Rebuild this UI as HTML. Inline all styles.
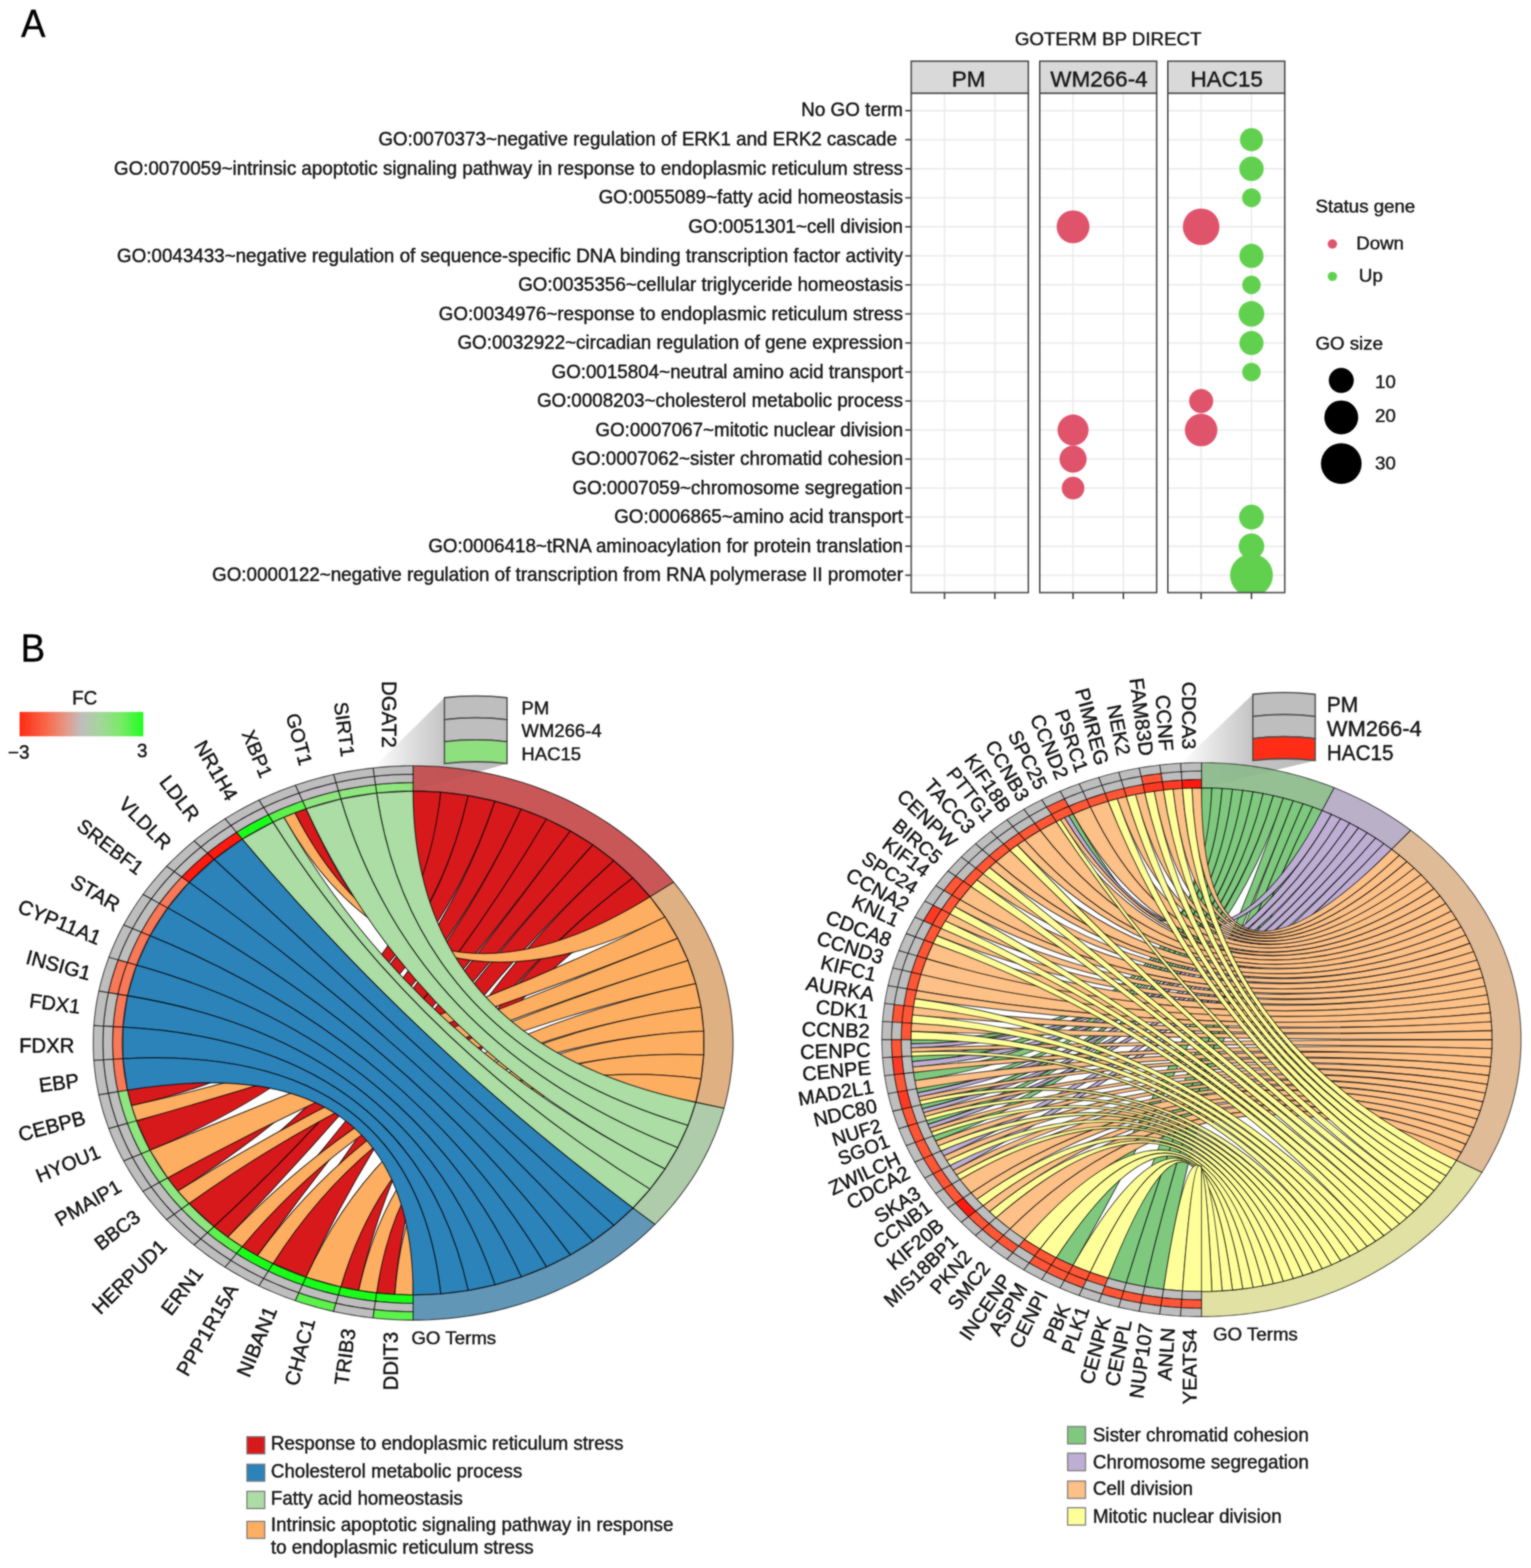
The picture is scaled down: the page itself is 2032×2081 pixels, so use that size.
<!DOCTYPE html>
<html lang="en">
<head>
<meta charset="utf-8">
<title>GO term enrichment and chord plots</title>
<style>
html, body { margin: 0; padding: 0; background: #fff; }
body { width: 2032px; height: 2081px; overflow: hidden; }
svg { display: block; font-family: "Liberation Sans", Arial, Helvetica, sans-serif; }
svg text { stroke: #111; stroke-width: 0.55px; stroke-linejoin: round; }
</style>
</head>
<body>
<svg width="2032" height="2081" viewBox="0 0 2032 2081">
<defs><filter id="soft" filterUnits="userSpaceOnUse" x="0" y="0" width="2032" height="2081" color-interpolation-filters="sRGB">
<feGaussianBlur in="SourceGraphic" stdDeviation="0.9" result="b"/>
<feComposite in="SourceGraphic" in2="b" operator="arithmetic" k1="0" k2="0.3" k3="0.7" k4="0"/>
</filter></defs>
<g filter="url(#soft)">
<rect width="2032" height="2081" fill="#fff"/>
<g id="panelA">
<text transform="translate(28.0,48.9) scale(1,1.075)" font-size="48.5" fill="#000">A</text>
<text x="1470.8" y="60.3" font-size="24.8" text-anchor="middle" fill="#1a1a1a" >GOTERM BP DIRECT</text>
<text x="1198.5" y="153.6" font-size="25.08" text-anchor="end" fill="#1a1a1a" >No GO term</text>
<line x1="1201.5" x2="1209.4" y1="146.9" y2="146.9" stroke="#444" stroke-width="2.1"/>
<text x="1190.5" y="193.3" font-size="24.94" text-anchor="end" fill="#1a1a1a" >GO:0070373~negative regulation of ERK1 and ERK2 cascade</text>
<line x1="1201.5" x2="1209.4" y1="185.4" y2="185.4" stroke="#444" stroke-width="2.1"/>
<text x="1198.5" y="231.9" font-size="24.94" text-anchor="end" fill="#1a1a1a" >GO:0070059~intrinsic apoptotic signaling pathway in response to endoplasmic reticulum stress</text>
<line x1="1201.5" x2="1209.4" y1="224.0" y2="224.0" stroke="#444" stroke-width="2.1"/>
<text x="1198.5" y="270.4" font-size="24.94" text-anchor="end" fill="#1a1a1a" >GO:0055089~fatty acid homeostasis</text>
<line x1="1201.5" x2="1209.4" y1="262.5" y2="262.5" stroke="#444" stroke-width="2.1"/>
<text x="1198.5" y="308.9" font-size="24.94" text-anchor="end" fill="#1a1a1a" >GO:0051301~cell division</text>
<line x1="1201.5" x2="1209.4" y1="301.0" y2="301.0" stroke="#444" stroke-width="2.1"/>
<text x="1198.5" y="347.5" font-size="24.94" text-anchor="end" fill="#1a1a1a" >GO:0043433~negative regulation of sequence-specific DNA binding transcription factor activity</text>
<line x1="1201.5" x2="1209.4" y1="339.6" y2="339.6" stroke="#444" stroke-width="2.1"/>
<text x="1198.5" y="386.0" font-size="24.94" text-anchor="end" fill="#1a1a1a" >GO:0035356~cellular triglyceride homeostasis</text>
<line x1="1201.5" x2="1209.4" y1="378.1" y2="378.1" stroke="#444" stroke-width="2.1"/>
<text x="1198.5" y="424.5" font-size="24.94" text-anchor="end" fill="#1a1a1a" >GO:0034976~response to endoplasmic reticulum stress</text>
<line x1="1201.5" x2="1209.4" y1="416.6" y2="416.6" stroke="#444" stroke-width="2.1"/>
<text x="1198.5" y="463.1" font-size="24.94" text-anchor="end" fill="#1a1a1a" >GO:0032922~circadian regulation of gene expression</text>
<line x1="1201.5" x2="1209.4" y1="455.2" y2="455.2" stroke="#444" stroke-width="2.1"/>
<text x="1198.5" y="501.6" font-size="24.94" text-anchor="end" fill="#1a1a1a" >GO:0015804~neutral amino acid transport</text>
<line x1="1201.5" x2="1209.4" y1="493.7" y2="493.7" stroke="#444" stroke-width="2.1"/>
<text x="1198.5" y="540.1" font-size="24.94" text-anchor="end" fill="#1a1a1a" >GO:0008203~cholesterol metabolic process</text>
<line x1="1201.5" x2="1209.4" y1="532.2" y2="532.2" stroke="#444" stroke-width="2.1"/>
<text x="1198.5" y="578.6" font-size="24.94" text-anchor="end" fill="#1a1a1a" >GO:0007067~mitotic nuclear division</text>
<line x1="1201.5" x2="1209.4" y1="570.7" y2="570.7" stroke="#444" stroke-width="2.1"/>
<text x="1198.5" y="617.2" font-size="24.94" text-anchor="end" fill="#1a1a1a" >GO:0007062~sister chromatid cohesion</text>
<line x1="1201.5" x2="1209.4" y1="609.3" y2="609.3" stroke="#444" stroke-width="2.1"/>
<text x="1198.5" y="655.7" font-size="24.94" text-anchor="end" fill="#1a1a1a" >GO:0007059~chromosome segregation</text>
<line x1="1201.5" x2="1209.4" y1="647.8" y2="647.8" stroke="#444" stroke-width="2.1"/>
<text x="1198.5" y="694.2" font-size="24.94" text-anchor="end" fill="#1a1a1a" >GO:0006865~amino acid transport</text>
<line x1="1201.5" x2="1209.4" y1="686.3" y2="686.3" stroke="#444" stroke-width="2.1"/>
<text x="1198.5" y="732.8" font-size="24.94" text-anchor="end" fill="#1a1a1a" >GO:0006418~tRNA aminoacylation for protein translation</text>
<line x1="1201.5" x2="1209.4" y1="724.9" y2="724.9" stroke="#444" stroke-width="2.1"/>
<text x="1198.5" y="771.3" font-size="24.94" text-anchor="end" fill="#1a1a1a" >GO:0000122~negative regulation of transcription from RNA polymerase II promoter</text>
<line x1="1201.5" x2="1209.4" y1="763.4" y2="763.4" stroke="#444" stroke-width="2.1"/>
<clipPath id="clipA0"><rect x="1209.4" y="123.8" width="155.4" height="662.7"/></clipPath>
<rect x="1209.4" y="81.2" width="155.4" height="42.6" fill="#d9d9d9" stroke="#4a4a4a" stroke-width="2"/>
<text x="1285.6" y="115.0" font-size="29.8" text-anchor="middle" fill="#1a1a1a" >PM</text>
<rect x="1209.4" y="123.8" width="155.4" height="662.7" fill="#fff" stroke="none"/>
<line x1="1209.4" x2="1364.8" y1="146.9" y2="146.9" stroke="#ebebeb" stroke-width="2"/>
<line x1="1209.4" x2="1364.8" y1="185.4" y2="185.4" stroke="#ebebeb" stroke-width="2"/>
<line x1="1209.4" x2="1364.8" y1="224.0" y2="224.0" stroke="#ebebeb" stroke-width="2"/>
<line x1="1209.4" x2="1364.8" y1="262.5" y2="262.5" stroke="#ebebeb" stroke-width="2"/>
<line x1="1209.4" x2="1364.8" y1="301.0" y2="301.0" stroke="#ebebeb" stroke-width="2"/>
<line x1="1209.4" x2="1364.8" y1="339.6" y2="339.6" stroke="#ebebeb" stroke-width="2"/>
<line x1="1209.4" x2="1364.8" y1="378.1" y2="378.1" stroke="#ebebeb" stroke-width="2"/>
<line x1="1209.4" x2="1364.8" y1="416.6" y2="416.6" stroke="#ebebeb" stroke-width="2"/>
<line x1="1209.4" x2="1364.8" y1="455.2" y2="455.2" stroke="#ebebeb" stroke-width="2"/>
<line x1="1209.4" x2="1364.8" y1="493.7" y2="493.7" stroke="#ebebeb" stroke-width="2"/>
<line x1="1209.4" x2="1364.8" y1="532.2" y2="532.2" stroke="#ebebeb" stroke-width="2"/>
<line x1="1209.4" x2="1364.8" y1="570.7" y2="570.7" stroke="#ebebeb" stroke-width="2"/>
<line x1="1209.4" x2="1364.8" y1="609.3" y2="609.3" stroke="#ebebeb" stroke-width="2"/>
<line x1="1209.4" x2="1364.8" y1="647.8" y2="647.8" stroke="#ebebeb" stroke-width="2"/>
<line x1="1209.4" x2="1364.8" y1="686.3" y2="686.3" stroke="#ebebeb" stroke-width="2"/>
<line x1="1209.4" x2="1364.8" y1="724.9" y2="724.9" stroke="#ebebeb" stroke-width="2"/>
<line x1="1209.4" x2="1364.8" y1="763.4" y2="763.4" stroke="#ebebeb" stroke-width="2"/>
<line x1="1253.6" x2="1253.6" y1="123.8" y2="786.5" stroke="#ebebeb" stroke-width="2"/>
<line x1="1253.6" x2="1253.6" y1="786.5" y2="795.0" stroke="#444" stroke-width="2.1"/>
<line x1="1320.4" x2="1320.4" y1="123.8" y2="786.5" stroke="#ebebeb" stroke-width="2"/>
<line x1="1320.4" x2="1320.4" y1="786.5" y2="795.0" stroke="#444" stroke-width="2.1"/>
<clipPath id="clipA1"><rect x="1380.0" y="123.8" width="155.2" height="662.7"/></clipPath>
<rect x="1380.0" y="81.2" width="155.2" height="42.6" fill="#d9d9d9" stroke="#4a4a4a" stroke-width="2"/>
<text x="1458.6" y="115.0" font-size="29.8" text-anchor="middle" fill="#1a1a1a" >WM266-4</text>
<rect x="1380.0" y="123.8" width="155.2" height="662.7" fill="#fff" stroke="none"/>
<line x1="1380.0" x2="1535.2" y1="146.9" y2="146.9" stroke="#ebebeb" stroke-width="2"/>
<line x1="1380.0" x2="1535.2" y1="185.4" y2="185.4" stroke="#ebebeb" stroke-width="2"/>
<line x1="1380.0" x2="1535.2" y1="224.0" y2="224.0" stroke="#ebebeb" stroke-width="2"/>
<line x1="1380.0" x2="1535.2" y1="262.5" y2="262.5" stroke="#ebebeb" stroke-width="2"/>
<line x1="1380.0" x2="1535.2" y1="301.0" y2="301.0" stroke="#ebebeb" stroke-width="2"/>
<line x1="1380.0" x2="1535.2" y1="339.6" y2="339.6" stroke="#ebebeb" stroke-width="2"/>
<line x1="1380.0" x2="1535.2" y1="378.1" y2="378.1" stroke="#ebebeb" stroke-width="2"/>
<line x1="1380.0" x2="1535.2" y1="416.6" y2="416.6" stroke="#ebebeb" stroke-width="2"/>
<line x1="1380.0" x2="1535.2" y1="455.2" y2="455.2" stroke="#ebebeb" stroke-width="2"/>
<line x1="1380.0" x2="1535.2" y1="493.7" y2="493.7" stroke="#ebebeb" stroke-width="2"/>
<line x1="1380.0" x2="1535.2" y1="532.2" y2="532.2" stroke="#ebebeb" stroke-width="2"/>
<line x1="1380.0" x2="1535.2" y1="570.7" y2="570.7" stroke="#ebebeb" stroke-width="2"/>
<line x1="1380.0" x2="1535.2" y1="609.3" y2="609.3" stroke="#ebebeb" stroke-width="2"/>
<line x1="1380.0" x2="1535.2" y1="647.8" y2="647.8" stroke="#ebebeb" stroke-width="2"/>
<line x1="1380.0" x2="1535.2" y1="686.3" y2="686.3" stroke="#ebebeb" stroke-width="2"/>
<line x1="1380.0" x2="1535.2" y1="724.9" y2="724.9" stroke="#ebebeb" stroke-width="2"/>
<line x1="1380.0" x2="1535.2" y1="763.4" y2="763.4" stroke="#ebebeb" stroke-width="2"/>
<line x1="1424.2" x2="1424.2" y1="123.8" y2="786.5" stroke="#ebebeb" stroke-width="2"/>
<line x1="1424.2" x2="1424.2" y1="786.5" y2="795.0" stroke="#444" stroke-width="2.1"/>
<line x1="1491.0" x2="1491.0" y1="123.8" y2="786.5" stroke="#ebebeb" stroke-width="2"/>
<line x1="1491.0" x2="1491.0" y1="786.5" y2="795.0" stroke="#444" stroke-width="2.1"/>
<clipPath id="clipA2"><rect x="1550.0" y="123.8" width="155.2" height="662.7"/></clipPath>
<rect x="1550.0" y="81.2" width="155.2" height="42.6" fill="#d9d9d9" stroke="#4a4a4a" stroke-width="2"/>
<text x="1628.1" y="115.0" font-size="29.8" text-anchor="middle" fill="#1a1a1a" >HAC15</text>
<rect x="1550.0" y="123.8" width="155.2" height="662.7" fill="#fff" stroke="none"/>
<line x1="1550.0" x2="1705.2" y1="146.9" y2="146.9" stroke="#ebebeb" stroke-width="2"/>
<line x1="1550.0" x2="1705.2" y1="185.4" y2="185.4" stroke="#ebebeb" stroke-width="2"/>
<line x1="1550.0" x2="1705.2" y1="224.0" y2="224.0" stroke="#ebebeb" stroke-width="2"/>
<line x1="1550.0" x2="1705.2" y1="262.5" y2="262.5" stroke="#ebebeb" stroke-width="2"/>
<line x1="1550.0" x2="1705.2" y1="301.0" y2="301.0" stroke="#ebebeb" stroke-width="2"/>
<line x1="1550.0" x2="1705.2" y1="339.6" y2="339.6" stroke="#ebebeb" stroke-width="2"/>
<line x1="1550.0" x2="1705.2" y1="378.1" y2="378.1" stroke="#ebebeb" stroke-width="2"/>
<line x1="1550.0" x2="1705.2" y1="416.6" y2="416.6" stroke="#ebebeb" stroke-width="2"/>
<line x1="1550.0" x2="1705.2" y1="455.2" y2="455.2" stroke="#ebebeb" stroke-width="2"/>
<line x1="1550.0" x2="1705.2" y1="493.7" y2="493.7" stroke="#ebebeb" stroke-width="2"/>
<line x1="1550.0" x2="1705.2" y1="532.2" y2="532.2" stroke="#ebebeb" stroke-width="2"/>
<line x1="1550.0" x2="1705.2" y1="570.7" y2="570.7" stroke="#ebebeb" stroke-width="2"/>
<line x1="1550.0" x2="1705.2" y1="609.3" y2="609.3" stroke="#ebebeb" stroke-width="2"/>
<line x1="1550.0" x2="1705.2" y1="647.8" y2="647.8" stroke="#ebebeb" stroke-width="2"/>
<line x1="1550.0" x2="1705.2" y1="686.3" y2="686.3" stroke="#ebebeb" stroke-width="2"/>
<line x1="1550.0" x2="1705.2" y1="724.9" y2="724.9" stroke="#ebebeb" stroke-width="2"/>
<line x1="1550.0" x2="1705.2" y1="763.4" y2="763.4" stroke="#ebebeb" stroke-width="2"/>
<line x1="1594.2" x2="1594.2" y1="123.8" y2="786.5" stroke="#ebebeb" stroke-width="2"/>
<line x1="1594.2" x2="1594.2" y1="786.5" y2="795.0" stroke="#444" stroke-width="2.1"/>
<line x1="1661.0" x2="1661.0" y1="123.8" y2="786.5" stroke="#ebebeb" stroke-width="2"/>
<line x1="1661.0" x2="1661.0" y1="786.5" y2="795.0" stroke="#444" stroke-width="2.1"/>
<circle cx="1661.0" cy="185.4" r="15.3" fill="#61d04f" clip-path="url(#clipA2)"/>
<circle cx="1661.0" cy="224.0" r="16.2" fill="#61d04f" clip-path="url(#clipA2)"/>
<circle cx="1661.0" cy="262.5" r="12.5" fill="#61d04f" clip-path="url(#clipA2)"/>
<circle cx="1424.2" cy="301.0" r="21.8" fill="#df536b" clip-path="url(#clipA1)"/>
<circle cx="1594.2" cy="301.0" r="24.3" fill="#df536b" clip-path="url(#clipA2)"/>
<circle cx="1661.0" cy="339.6" r="16.0" fill="#61d04f" clip-path="url(#clipA2)"/>
<circle cx="1661.0" cy="378.1" r="12.3" fill="#61d04f" clip-path="url(#clipA2)"/>
<circle cx="1661.0" cy="416.6" r="17.0" fill="#61d04f" clip-path="url(#clipA2)"/>
<circle cx="1661.0" cy="455.2" r="16.0" fill="#61d04f" clip-path="url(#clipA2)"/>
<circle cx="1661.0" cy="493.7" r="12.3" fill="#61d04f" clip-path="url(#clipA2)"/>
<circle cx="1594.2" cy="532.2" r="16.0" fill="#df536b" clip-path="url(#clipA2)"/>
<circle cx="1424.2" cy="570.7" r="20.6" fill="#df536b" clip-path="url(#clipA1)"/>
<circle cx="1594.2" cy="570.7" r="21.6" fill="#df536b" clip-path="url(#clipA2)"/>
<circle cx="1424.2" cy="609.3" r="18.0" fill="#df536b" clip-path="url(#clipA1)"/>
<circle cx="1424.2" cy="647.8" r="15.0" fill="#df536b" clip-path="url(#clipA1)"/>
<circle cx="1661.0" cy="686.3" r="16.5" fill="#61d04f" clip-path="url(#clipA2)"/>
<circle cx="1661.0" cy="724.9" r="17.0" fill="#61d04f" clip-path="url(#clipA2)"/>
<circle cx="1661.0" cy="763.4" r="28.4" fill="#61d04f" clip-path="url(#clipA2)"/>
<rect x="1209.4" y="123.8" width="155.4" height="662.7" fill="none" stroke="#4a4a4a" stroke-width="2"/>
<rect x="1380.0" y="123.8" width="155.2" height="662.7" fill="none" stroke="#4a4a4a" stroke-width="2"/>
<rect x="1550.0" y="123.8" width="155.2" height="662.7" fill="none" stroke="#4a4a4a" stroke-width="2"/>
<text x="1746.0" y="282.3" font-size="24.8" text-anchor="start" fill="#1a1a1a" >Status gene</text>
<circle cx="1768.4" cy="323.8" r="6.2" fill="#df536b"/>
<text x="1800.0" y="330.5" font-size="24.8" text-anchor="start" fill="#1a1a1a" >Down</text>
<circle cx="1768.4" cy="366.9" r="6.2" fill="#61d04f"/>
<text x="1803.5" y="373.5" font-size="24.8" text-anchor="start" fill="#1a1a1a" >Up</text>
<text x="1746.0" y="464.3" font-size="24.8" text-anchor="start" fill="#1a1a1a" >GO size</text>
<circle cx="1780.2" cy="504.9" r="16.6" fill="#000"/>
<text x="1825.0" y="514.5" font-size="24.8" text-anchor="start" fill="#1a1a1a" >10</text>
<circle cx="1780.2" cy="553.9" r="22.5" fill="#000"/>
<text x="1825.0" y="560.4" font-size="24.8" text-anchor="start" fill="#1a1a1a" >20</text>
<circle cx="1780.2" cy="615.3" r="27.0" fill="#000"/>
<text x="1825.0" y="623.1" font-size="24.8" text-anchor="start" fill="#1a1a1a" >30</text>
</g>
<g id="panelB">
<text transform="translate(27.6,877.6) scale(1,1.075)" font-size="48.5" fill="#000">B</text>
<defs><linearGradient id="fc" x1="0" x2="1" y1="0" y2="0"><stop offset="0" stop-color="#ff2a14"/><stop offset="0.22" stop-color="#f9694a"/><stop offset="0.38" stop-color="#e49a8a"/><stop offset="0.5" stop-color="#bebebe"/><stop offset="0.65" stop-color="#a3d79a"/><stop offset="0.82" stop-color="#79ea68"/><stop offset="1" stop-color="#1eff1e"/></linearGradient></defs>
<rect x="26" y="944.8" width="164.2" height="32.4" fill="url(#fc)"/>
<text x="112.5" y="935.0" font-size="25" text-anchor="middle" fill="#1a1a1a" >FC</text>
<text x="25.0" y="1007.0" font-size="25" text-anchor="middle" fill="#1a1a1a" >−3</text>
<text x="188.7" y="1004.8" font-size="25" text-anchor="middle" fill="#1a1a1a" >3</text>
<defs><linearGradient id="shL" gradientUnits="userSpaceOnUse" x1="495.1" y1="0" x2="672.9" y2="0"><stop offset="0" stop-color="#000" stop-opacity="0"/><stop offset="0.55" stop-color="#000" stop-opacity="0.21"/><stop offset="1" stop-color="#000" stop-opacity="0.235"/></linearGradient></defs>
<path d="M495.1,1019.3 L589.8,926.0 L672.9,926.0 L672.9,1013.4 L548.3,1049.8Z" fill="url(#shL)"/>
<defs><linearGradient id="shR" gradientUnits="userSpaceOnUse" x1="1566.9" y1="0" x2="1745.6" y2="0"><stop offset="0" stop-color="#000" stop-opacity="0"/><stop offset="0.55" stop-color="#000" stop-opacity="0.21"/><stop offset="1" stop-color="#000" stop-opacity="0.235"/></linearGradient></defs>
<path d="M1566.9,1013.0 L1662.8,921.5 L1745.6,921.5 L1745.6,1009.4 L1594.6,1045.6Z" fill="url(#shR)"/>
<g stroke="#000" stroke-opacity="0.7" stroke-width="1.3" stroke-linejoin="round">
<path d="M548.3,1049.8 L555.0,1049.9 L561.7,1050.0 L568.3,1050.3 L575.0,1050.6 L581.7,1051.1 L588.3,1051.6 L595.0,1052.3 L601.6,1053.0 L608.2,1053.8 L614.8,1054.8 L621.4,1055.8 L627.9,1057.0 L634.4,1058.2 L640.9,1059.6 L647.4,1061.0 L653.8,1062.5 L660.2,1064.2 L666.6,1065.9 L673.0,1067.7 L679.3,1069.6 L685.5,1071.6 L691.8,1073.8 L697.9,1076.0 L704.1,1078.2 L710.2,1080.6 L716.2,1083.1 L722.2,1085.7 L728.1,1088.3 L734.0,1091.1 L739.9,1093.9 L745.6,1096.8 L751.3,1099.8 L757.0,1102.9 L762.6,1106.1 L768.1,1109.3 L773.6,1112.6 L779.0,1116.1 L784.3,1119.6 L789.5,1123.1 L794.7,1126.8 L799.8,1130.5 L804.8,1134.3 L809.8,1138.2 L814.7,1142.2 L819.5,1146.2 L824.2,1150.3 L828.8,1154.5 L833.4,1158.7 L837.8,1163.0 L842.2,1167.4 L846.5,1171.8 L850.7,1176.4 L854.8,1180.9 L858.8,1185.5 L862.7,1190.2 L894.2,1170.8 L889.9,1165.7 L885.4,1160.6 L880.9,1155.6 L876.3,1150.6 L871.6,1145.7 L866.8,1140.9 L861.9,1136.2 L856.9,1131.5 L851.8,1126.9 L846.6,1122.4 L841.3,1118.0 L835.9,1113.6 L830.5,1109.4 L825.0,1105.2 L819.3,1101.1 L813.6,1097.0 L807.9,1093.1 L802.0,1089.3 L796.1,1085.5 L790.1,1081.8 L784.0,1078.2 L777.9,1074.8 L771.6,1071.4 L765.4,1068.1 L759.0,1064.8 L752.6,1061.7 L746.1,1058.7 L739.6,1055.8 L733.0,1053.0 L726.4,1050.3 L719.7,1047.6 L712.9,1045.1 L706.1,1042.7 L699.3,1040.4 L692.4,1038.2 L685.4,1036.1 L678.5,1034.1 L671.4,1032.2 L664.4,1030.4 L657.3,1028.7 L650.2,1027.1 L643.0,1025.6 L635.9,1024.3 L628.7,1023.0 L621.4,1021.9 L614.2,1020.8 L606.9,1019.9 L599.6,1019.1 L592.3,1018.3 L585.0,1017.7 L577.7,1017.2 L570.3,1016.9 L563.0,1016.6 L555.6,1016.4 L548.3,1016.4Z" fill="#c95758"/>
<path d="M862.7,1190.2 L866.5,1194.9 L870.2,1199.7 L873.8,1204.5 L877.3,1209.3 L880.7,1214.3 L884.0,1219.2 L887.3,1224.2 L890.4,1229.3 L893.4,1234.4 L896.3,1239.5 L899.1,1244.7 L901.8,1249.9 L904.4,1255.2 L906.9,1260.5 L909.3,1265.8 L911.6,1271.2 L913.8,1276.6 L915.9,1282.1 L917.8,1287.5 L919.7,1293.0 L921.4,1298.6 L923.1,1304.1 L924.6,1309.7 L926.0,1315.3 L927.3,1320.9 L928.5,1326.6 L929.6,1332.2 L930.6,1337.9 L931.4,1343.6 L932.2,1349.2 L932.8,1354.9 L933.3,1360.7 L933.8,1366.4 L934.0,1372.1 L934.2,1377.8 L934.3,1383.6 L934.3,1389.3 L934.1,1395.0 L933.8,1400.7 L933.4,1406.5 L932.9,1412.2 L932.3,1417.9 L931.6,1423.6 L930.8,1429.3 L929.8,1434.9 L928.8,1440.6 L927.6,1446.2 L926.3,1451.9 L924.9,1457.5 L923.4,1463.0 L960.9,1470.9 L962.6,1464.8 L964.1,1458.6 L965.5,1452.4 L966.8,1446.2 L968.0,1440.0 L969.0,1433.8 L969.9,1427.5 L970.7,1421.3 L971.4,1415.0 L972.0,1408.7 L972.4,1402.4 L972.7,1396.1 L972.9,1389.8 L972.9,1383.5 L972.8,1377.2 L972.6,1370.9 L972.3,1364.6 L971.8,1358.3 L971.3,1352.0 L970.6,1345.8 L969.8,1339.5 L968.8,1333.2 L967.7,1327.0 L966.5,1320.8 L965.2,1314.6 L963.8,1308.4 L962.2,1302.3 L960.5,1296.1 L958.7,1290.0 L956.8,1283.9 L954.8,1277.9 L952.6,1271.9 L950.3,1265.9 L947.9,1259.9 L945.4,1254.0 L942.8,1248.1 L940.0,1242.3 L937.2,1236.5 L934.2,1230.8 L931.1,1225.1 L927.9,1219.4 L924.6,1213.8 L921.2,1208.2 L917.6,1202.7 L914.0,1197.3 L910.2,1191.9 L906.4,1186.5 L902.4,1181.2 L898.3,1176.0 L894.2,1170.8Z" fill="#dfb082"/>
<path d="M923.4,1463.0 L921.8,1468.6 L920.1,1474.0 L918.3,1479.5 L916.4,1484.9 L914.3,1490.3 L912.2,1495.7 L910.0,1501.1 L907.6,1506.4 L905.2,1511.6 L902.6,1516.9 L900.0,1522.1 L897.2,1527.2 L894.3,1532.4 L891.4,1537.4 L888.3,1542.5 L885.2,1547.4 L881.9,1552.4 L878.6,1557.3 L875.1,1562.1 L871.6,1566.9 L868.0,1571.6 L864.2,1576.3 L860.4,1580.9 L856.5,1585.5 L852.5,1590.0 L848.4,1594.5 L844.3,1598.9 L840.0,1603.2 L869.2,1625.1 L873.9,1620.3 L878.5,1615.5 L882.9,1610.6 L887.3,1605.6 L891.6,1600.6 L895.8,1595.5 L899.9,1590.4 L903.9,1585.2 L907.8,1579.9 L911.6,1574.6 L915.3,1569.2 L918.9,1563.8 L922.3,1558.3 L925.7,1552.8 L929.0,1547.2 L932.1,1541.5 L935.1,1535.9 L938.0,1530.1 L940.9,1524.4 L943.5,1518.6 L946.1,1512.7 L948.6,1506.9 L950.9,1501.0 L953.2,1495.0 L955.3,1489.0 L957.3,1483.0 L959.2,1477.0 L960.9,1470.9Z" fill="#aeccaa"/>
<path d="M840.0,1603.2 L835.6,1607.5 L831.2,1611.7 L826.6,1615.9 L822.0,1620.0 L817.3,1624.0 L812.5,1628.0 L807.7,1631.9 L802.7,1635.7 L797.7,1639.4 L792.6,1643.1 L787.5,1646.7 L782.3,1650.2 L777.0,1653.6 L771.6,1657.0 L766.2,1660.2 L760.7,1663.4 L755.1,1666.5 L749.5,1669.6 L743.8,1672.5 L738.1,1675.4 L732.3,1678.2 L726.5,1680.8 L720.6,1683.4 L714.6,1686.0 L708.7,1688.4 L702.6,1690.7 L696.5,1693.0 L690.4,1695.1 L684.2,1697.2 L678.0,1699.2 L671.8,1701.0 L665.5,1702.8 L659.2,1704.5 L652.8,1706.1 L646.4,1707.6 L640.0,1709.0 L633.6,1710.3 L627.1,1711.6 L620.6,1712.7 L614.1,1713.7 L607.6,1714.6 L601.1,1715.5 L594.5,1716.2 L587.9,1716.8 L581.3,1717.4 L574.7,1717.8 L568.1,1718.2 L561.5,1718.4 L554.9,1718.6 L548.3,1718.6 L548.3,1752.0 L555.6,1752.0 L562.8,1751.8 L570.1,1751.6 L577.4,1751.2 L584.6,1750.7 L591.9,1750.1 L599.1,1749.4 L606.3,1748.6 L613.5,1747.7 L620.7,1746.7 L627.9,1745.5 L635.0,1744.3 L642.1,1743.0 L649.2,1741.5 L656.2,1740.0 L663.3,1738.3 L670.2,1736.5 L677.2,1734.7 L684.1,1732.7 L691.0,1730.6 L697.8,1728.5 L704.6,1726.2 L711.3,1723.8 L718.0,1721.4 L724.7,1718.8 L731.3,1716.1 L737.8,1713.4 L744.3,1710.5 L750.7,1707.5 L757.1,1704.5 L763.4,1701.3 L769.6,1698.1 L775.8,1694.8 L781.9,1691.4 L788.0,1687.8 L793.9,1684.2 L799.8,1680.5 L805.7,1676.8 L811.4,1672.9 L817.1,1669.0 L822.7,1664.9 L828.2,1660.8 L833.6,1656.6 L839.0,1652.3 L844.2,1648.0 L849.4,1643.6 L854.5,1639.1 L859.5,1634.5 L864.4,1629.8 L869.2,1625.1Z" fill="#6196b7"/>
</g>
<g stroke="#000" stroke-opacity="0.78" stroke-width="1.3" stroke-linejoin="round">
<path d="M548.3,1049.8 Q548.3,1384.2 406.2,1073.3 L391.3,1078.7 Q548.3,1384.2 585.0,1051.3Z" fill="#d7191c"/>
<path d="M585.0,1051.3 Q548.3,1384.2 169.1,1446.9 L174.4,1467.4 Q548.3,1384.2 621.4,1055.8Z" fill="#d7191c"/>
<path d="M621.4,1055.8 Q548.3,1384.2 181.2,1487.5 L199.0,1526.6 Q548.3,1384.2 657.0,1063.3Z" fill="#d7191c"/>
<path d="M657.0,1063.3 Q548.3,1384.2 222.4,1563.4 L236.0,1580.8 Q548.3,1384.2 691.8,1073.8Z" fill="#d7191c"/>
<path d="M691.8,1073.8 Q548.3,1384.2 250.9,1597.4 L284.1,1628.0 Q548.3,1384.2 725.2,1087.0Z" fill="#d7191c"/>
<path d="M725.2,1087.0 Q548.3,1384.2 284.1,1628.0 L302.3,1641.9 Q548.3,1384.2 757.0,1102.9Z" fill="#d7191c"/>
<path d="M757.0,1102.9 Q548.3,1384.2 321.4,1654.7 L341.5,1666.5 Q548.3,1384.2 786.9,1121.3Z" fill="#d7191c"/>
<path d="M786.9,1121.3 Q548.3,1384.2 362.3,1677.2 L406.2,1695.1 Q548.3,1384.2 814.7,1142.2Z" fill="#d7191c"/>
<path d="M814.7,1142.2 Q548.3,1384.2 452.3,1708.1 L476.0,1712.7 Q548.3,1384.2 840.0,1165.2Z" fill="#d7191c"/>
<path d="M840.0,1165.2 Q548.3,1384.2 499.9,1716.0 L524.1,1717.9 Q548.3,1384.2 862.7,1190.2Z" fill="#d7191c"/>
<path d="M862.7,1190.2 Q548.3,1384.2 391.3,1078.7 L376.7,1084.7 Q548.3,1384.2 882.6,1217.0Z" fill="#fdae61"/>
<path d="M882.6,1217.0 Q548.3,1384.2 174.4,1467.4 L181.2,1487.5 Q548.3,1384.2 899.4,1245.3Z" fill="#fdae61"/>
<path d="M899.4,1245.3 Q548.3,1384.2 199.0,1526.6 L222.4,1563.4 Q548.3,1384.2 913.1,1274.8Z" fill="#fdae61"/>
<path d="M913.1,1274.8 Q548.3,1384.2 236.0,1580.8 L250.9,1597.4 Q548.3,1384.2 923.4,1305.4Z" fill="#fdae61"/>
<path d="M923.4,1305.4 Q548.3,1384.2 302.3,1641.9 L321.4,1654.7 Q548.3,1384.2 930.4,1336.6Z" fill="#fdae61"/>
<path d="M930.4,1336.6 Q548.3,1384.2 341.5,1666.5 L362.3,1677.2 Q548.3,1384.2 933.9,1368.3Z" fill="#fdae61"/>
<path d="M933.9,1368.3 Q548.3,1384.2 406.2,1695.1 L452.3,1708.1 Q548.3,1384.2 933.9,1400.1Z" fill="#fdae61"/>
<path d="M933.9,1400.1 Q548.3,1384.2 476.0,1712.7 L499.9,1716.0 Q548.3,1384.2 930.4,1431.8Z" fill="#fdae61"/>
<path d="M930.4,1431.8 Q548.3,1384.2 524.1,1717.9 L548.3,1718.6 Q548.3,1384.2 923.4,1463.0Z" fill="#fdae61"/>
<path d="M923.4,1463.0 Q548.3,1384.2 548.3,1049.8 L499.9,1052.4 Q548.3,1384.2 913.1,1493.6Z" fill="#abdda4"/>
<path d="M913.1,1493.6 Q548.3,1384.2 499.9,1052.4 L452.3,1060.3 Q548.3,1384.2 899.4,1523.1Z" fill="#abdda4"/>
<path d="M899.4,1523.1 Q548.3,1384.2 452.3,1060.3 L406.2,1073.3 Q548.3,1384.2 882.6,1551.4Z" fill="#abdda4"/>
<path d="M882.6,1551.4 Q548.3,1384.2 376.7,1084.7 L362.3,1091.2 Q548.3,1384.2 862.7,1578.2Z" fill="#abdda4"/>
<path d="M862.7,1578.2 Q548.3,1384.2 362.3,1091.2 L321.4,1113.7 Q548.3,1384.2 840.0,1603.2Z" fill="#abdda4"/>
<path d="M840.0,1603.2 Q548.3,1384.2 321.4,1113.7 L284.1,1140.4 Q548.3,1384.2 814.7,1626.2Z" fill="#2b83ba"/>
<path d="M814.7,1626.2 Q548.3,1384.2 284.1,1140.4 L250.9,1171.0 Q548.3,1384.2 786.9,1647.1Z" fill="#2b83ba"/>
<path d="M786.9,1647.1 Q548.3,1384.2 250.9,1171.0 L222.4,1205.0 Q548.3,1384.2 757.0,1665.5Z" fill="#2b83ba"/>
<path d="M757.0,1665.5 Q548.3,1384.2 222.4,1205.0 L199.0,1241.8 Q548.3,1384.2 725.2,1681.4Z" fill="#2b83ba"/>
<path d="M725.2,1681.4 Q548.3,1384.2 199.0,1241.8 L181.2,1280.9 Q548.3,1384.2 691.8,1694.6Z" fill="#2b83ba"/>
<path d="M691.8,1694.6 Q548.3,1384.2 181.2,1280.9 L169.1,1321.5 Q548.3,1384.2 657.0,1705.1Z" fill="#2b83ba"/>
<path d="M657.0,1705.1 Q548.3,1384.2 169.1,1321.5 L163.1,1363.2 Q548.3,1384.2 621.4,1712.6Z" fill="#2b83ba"/>
<path d="M621.4,1712.6 Q548.3,1384.2 163.1,1363.2 L163.1,1405.2 Q548.3,1384.2 585.0,1717.1Z" fill="#2b83ba"/>
<path d="M585.0,1717.1 Q548.3,1384.2 163.1,1405.2 L169.1,1446.9 Q548.3,1384.2 548.3,1718.6Z" fill="#2b83ba"/>
</g>
<g stroke="#000" stroke-opacity="0.7" stroke-width="1.3" stroke-linejoin="round">
<path d="M548.3,1049.8 L542.2,1049.8 L536.2,1050.0 L530.1,1050.2 L524.1,1050.5 L518.0,1050.8 L512.0,1051.3 L505.9,1051.8 L499.9,1052.4 L498.3,1041.4 L504.5,1040.7 L510.8,1040.2 L517.0,1039.7 L523.3,1039.3 L529.5,1039.0 L535.8,1038.8 L542.0,1038.7 L548.3,1038.7Z" fill="#8fe67f"/>
<path d="M548.3,1038.7 L542.0,1038.7 L535.8,1038.8 L529.5,1039.0 L523.3,1039.3 L517.0,1039.7 L510.8,1040.2 L504.5,1040.7 L498.3,1041.4 L496.7,1030.3 L503.1,1029.7 L509.6,1029.1 L516.0,1028.6 L522.4,1028.2 L528.9,1027.9 L535.4,1027.7 L541.8,1027.6 L548.3,1027.5Z" fill="#bebebe"/>
<path d="M548.3,1027.5 L541.8,1027.6 L535.4,1027.7 L528.9,1027.9 L522.4,1028.2 L516.0,1028.6 L509.6,1029.1 L503.1,1029.7 L496.7,1030.3 L495.1,1019.3 L501.7,1018.6 L508.3,1018.0 L515.0,1017.5 L521.6,1017.1 L528.3,1016.8 L535.0,1016.5 L541.6,1016.4 L548.3,1016.4Z" fill="#bebebe"/>
<path d="M499.9,1052.4 L493.9,1053.1 L487.9,1053.9 L481.9,1054.8 L476.0,1055.7 L470.0,1056.7 L464.1,1057.9 L458.2,1059.0 L452.3,1060.3 L449.1,1049.5 L455.2,1048.2 L461.3,1047.0 L467.4,1045.8 L473.6,1044.8 L479.7,1043.8 L485.9,1042.9 L492.1,1042.1 L498.3,1041.4Z" fill="#8fe67f"/>
<path d="M498.3,1041.4 L492.1,1042.1 L485.9,1042.9 L479.7,1043.8 L473.6,1044.8 L467.4,1045.8 L461.3,1047.0 L455.2,1048.2 L449.1,1049.5 L445.9,1038.7 L452.2,1037.4 L458.5,1036.1 L464.8,1034.9 L471.1,1033.8 L477.5,1032.8 L483.9,1031.9 L490.3,1031.1 L496.7,1030.3Z" fill="#bebebe"/>
<path d="M496.7,1030.3 L490.3,1031.1 L483.9,1031.9 L477.5,1032.8 L471.1,1033.8 L464.8,1034.9 L458.5,1036.1 L452.2,1037.4 L445.9,1038.7 L442.7,1027.9 L449.2,1026.5 L455.7,1025.2 L462.2,1024.0 L468.7,1022.9 L475.3,1021.8 L481.9,1020.9 L488.5,1020.0 L495.1,1019.3Z" fill="#bebebe"/>
<path d="M452.3,1060.3 L446.4,1061.7 L440.6,1063.1 L434.8,1064.6 L429.0,1066.2 L423.3,1067.8 L417.5,1069.6 L411.9,1071.4 L406.2,1073.3 L401.5,1062.9 L407.3,1061.0 L413.2,1059.1 L419.1,1057.3 L425.0,1055.6 L431.0,1053.9 L437.0,1052.4 L443.0,1050.9 L449.1,1049.5Z" fill="#8fe67f"/>
<path d="M449.1,1049.5 L443.0,1050.9 L437.0,1052.4 L431.0,1053.9 L425.0,1055.6 L419.1,1057.3 L413.2,1059.1 L407.3,1061.0 L401.5,1062.9 L396.7,1052.6 L402.8,1050.5 L408.8,1048.6 L414.9,1046.7 L421.1,1045.0 L427.2,1043.3 L433.4,1041.7 L439.7,1040.1 L445.9,1038.7Z" fill="#c3bcc2"/>
<path d="M445.9,1038.7 L439.7,1040.1 L433.4,1041.7 L427.2,1043.3 L421.1,1045.0 L414.9,1046.7 L408.8,1048.6 L402.8,1050.5 L396.7,1052.6 L392.0,1042.2 L398.2,1040.1 L404.5,1038.1 L410.8,1036.2 L417.1,1034.4 L423.5,1032.6 L429.8,1031.0 L436.3,1029.4 L442.7,1027.9Z" fill="#bebebe"/>
<path d="M406.2,1073.3 L400.6,1075.3 L395.0,1077.3 L389.5,1079.4 L383.9,1081.6 L378.5,1083.9 L373.1,1086.2 L367.7,1088.7 L362.3,1091.2 L356.1,1081.4 L361.7,1078.8 L367.2,1076.3 L372.8,1073.9 L378.5,1071.5 L384.2,1069.3 L389.9,1067.1 L395.7,1065.0 L401.5,1062.9Z" fill="#5cf24c"/>
<path d="M401.5,1062.9 L395.7,1065.0 L389.9,1067.1 L384.2,1069.3 L378.5,1071.5 L372.8,1073.9 L367.2,1076.3 L361.7,1078.8 L356.1,1081.4 L349.9,1071.6 L355.6,1069.0 L361.4,1066.4 L367.2,1063.9 L373.0,1061.5 L378.9,1059.1 L384.8,1056.8 L390.7,1054.7 L396.7,1052.6Z" fill="#c3bcc2"/>
<path d="M396.7,1052.6 L390.7,1054.7 L384.8,1056.8 L378.9,1059.1 L373.0,1061.5 L367.2,1063.9 L361.4,1066.4 L355.6,1069.0 L349.9,1071.6 L343.7,1061.9 L349.6,1059.1 L355.5,1056.5 L361.5,1053.9 L367.5,1051.4 L373.6,1048.9 L379.7,1046.6 L385.8,1044.4 L392.0,1042.2Z" fill="#bebebe"/>
<path d="M362.3,1091.2 L357.1,1093.7 L351.8,1096.4 L346.6,1099.1 L341.5,1101.9 L336.4,1104.7 L331.3,1107.6 L326.3,1110.6 L321.4,1113.7 L313.9,1104.6 L318.9,1101.5 L324.1,1098.4 L329.3,1095.4 L334.6,1092.4 L339.9,1089.6 L345.3,1086.8 L350.7,1084.0 L356.1,1081.4Z" fill="#18ff18"/>
<path d="M356.1,1081.4 L350.7,1084.0 L345.3,1086.8 L339.9,1089.6 L334.6,1092.4 L329.3,1095.4 L324.1,1098.4 L318.9,1101.5 L313.9,1104.6 L306.3,1095.6 L311.6,1092.4 L316.9,1089.2 L322.2,1086.1 L327.7,1083.0 L333.2,1080.1 L338.7,1077.2 L344.3,1074.4 L349.9,1071.6Z" fill="#c3bcc2"/>
<path d="M349.9,1071.6 L344.3,1074.4 L338.7,1077.2 L333.2,1080.1 L327.7,1083.0 L322.2,1086.1 L316.9,1089.2 L311.6,1092.4 L306.3,1095.6 L298.7,1086.6 L304.2,1083.3 L309.6,1080.0 L315.2,1076.8 L320.8,1073.6 L326.4,1070.6 L332.2,1067.6 L337.9,1064.7 L343.7,1061.9Z" fill="#bebebe"/>
<path d="M321.4,1113.7 L316.5,1116.8 L311.7,1120.0 L307.0,1123.2 L302.3,1126.5 L297.6,1129.9 L293.0,1133.4 L288.5,1136.9 L284.1,1140.4 L275.3,1132.3 L279.9,1128.6 L284.5,1125.0 L289.3,1121.4 L294.1,1118.0 L298.9,1114.5 L303.8,1111.2 L308.8,1107.9 L313.9,1104.6Z" fill="#ff1a10"/>
<path d="M313.9,1104.6 L308.8,1107.9 L303.8,1111.2 L298.9,1114.5 L294.1,1118.0 L289.3,1121.4 L284.5,1125.0 L279.9,1128.6 L275.3,1132.3 L266.4,1124.2 L271.2,1120.4 L276.0,1116.6 L280.9,1113.0 L285.9,1109.4 L290.9,1105.8 L295.9,1102.4 L301.1,1099.0 L306.3,1095.6Z" fill="#bebebe"/>
<path d="M306.3,1095.6 L301.1,1099.0 L295.9,1102.4 L290.9,1105.8 L285.9,1109.4 L280.9,1113.0 L276.0,1116.6 L271.2,1120.4 L266.4,1124.2 L257.6,1116.1 L262.5,1112.1 L267.5,1108.3 L272.5,1104.5 L277.6,1100.8 L282.8,1097.1 L288.1,1093.5 L293.4,1090.0 L298.7,1086.6Z" fill="#bebebe"/>
<path d="M284.1,1140.4 L279.7,1144.1 L275.4,1147.7 L271.1,1151.5 L266.9,1155.3 L262.8,1159.1 L258.8,1163.1 L254.8,1167.0 L250.9,1171.0 L241.0,1163.9 L245.0,1159.8 L249.1,1155.7 L253.3,1151.6 L257.5,1147.7 L261.9,1143.7 L266.3,1139.9 L270.7,1136.1 L275.3,1132.3Z" fill="#ff1a10"/>
<path d="M275.3,1132.3 L270.7,1136.1 L266.3,1139.9 L261.9,1143.7 L257.5,1147.7 L253.3,1151.6 L249.1,1155.7 L245.0,1159.8 L241.0,1163.9 L231.1,1156.8 L235.2,1152.5 L239.5,1148.3 L243.8,1144.1 L248.2,1140.0 L252.6,1136.0 L257.2,1132.0 L261.8,1128.0 L266.4,1124.2Z" fill="#bebebe"/>
<path d="M266.4,1124.2 L261.8,1128.0 L257.2,1132.0 L252.6,1136.0 L248.2,1140.0 L243.8,1144.1 L239.5,1148.3 L235.2,1152.5 L231.1,1156.8 L221.1,1149.7 L225.4,1145.3 L229.8,1140.9 L234.3,1136.6 L238.8,1132.4 L243.4,1128.2 L248.1,1124.1 L252.8,1120.0 L257.6,1116.1Z" fill="#bebebe"/>
<path d="M250.9,1171.0 L247.1,1175.1 L243.3,1179.2 L239.6,1183.4 L236.0,1187.6 L232.5,1191.9 L229.0,1196.2 L225.7,1200.6 L222.4,1205.0 L211.5,1199.0 L214.9,1194.5 L218.4,1190.0 L222.0,1185.5 L225.6,1181.1 L229.3,1176.7 L233.1,1172.4 L237.0,1168.1 L241.0,1163.9Z" fill="#f97858"/>
<path d="M241.0,1163.9 L237.0,1168.1 L233.1,1172.4 L229.3,1176.7 L225.6,1181.1 L222.0,1185.5 L218.4,1190.0 L214.9,1194.5 L211.5,1199.0 L200.7,1193.1 L204.2,1188.4 L207.8,1183.7 L211.4,1179.1 L215.2,1174.5 L219.0,1170.0 L223.0,1165.6 L227.0,1161.2 L231.1,1156.8Z" fill="#bebebe"/>
<path d="M231.1,1156.8 L227.0,1161.2 L223.0,1165.6 L219.0,1170.0 L215.2,1174.5 L211.4,1179.1 L207.8,1183.7 L204.2,1188.4 L200.7,1193.1 L189.8,1187.1 L193.4,1182.2 L197.1,1177.4 L200.9,1172.7 L204.8,1168.0 L208.8,1163.3 L212.8,1158.7 L216.9,1154.2 L221.1,1149.7Z" fill="#bebebe"/>
<path d="M222.4,1205.0 L219.2,1209.5 L216.1,1214.0 L213.0,1218.5 L210.0,1223.1 L207.2,1227.7 L204.4,1232.4 L201.7,1237.1 L199.0,1241.8 L187.4,1237.1 L190.1,1232.2 L192.9,1227.3 L195.8,1222.5 L198.8,1217.7 L201.8,1213.0 L205.0,1208.3 L208.2,1203.7 L211.5,1199.0Z" fill="#f97858"/>
<path d="M211.5,1199.0 L208.2,1203.7 L205.0,1208.3 L201.8,1213.0 L198.8,1217.7 L195.8,1222.5 L192.9,1227.3 L190.1,1232.2 L187.4,1237.1 L175.8,1232.3 L178.6,1227.3 L181.4,1222.3 L184.4,1217.3 L187.5,1212.4 L190.7,1207.5 L193.9,1202.6 L197.2,1197.8 L200.7,1193.1Z" fill="#bebebe"/>
<path d="M200.7,1193.1 L197.2,1197.8 L193.9,1202.6 L190.7,1207.5 L187.5,1212.4 L184.4,1217.3 L181.4,1222.3 L178.6,1227.3 L175.8,1232.3 L164.1,1227.6 L167.0,1222.4 L170.0,1217.2 L173.1,1212.1 L176.2,1207.0 L179.5,1202.0 L182.8,1197.0 L186.3,1192.0 L189.8,1187.1Z" fill="#bebebe"/>
<path d="M199.0,1241.8 L196.5,1246.6 L194.0,1251.4 L191.7,1256.2 L189.4,1261.1 L187.2,1266.0 L185.1,1270.9 L183.1,1275.9 L181.2,1280.9 L169.0,1277.4 L170.9,1272.3 L173.0,1267.2 L175.2,1262.1 L177.4,1257.0 L179.8,1252.0 L182.2,1247.0 L184.8,1242.0 L187.4,1237.1Z" fill="#f97858"/>
<path d="M187.4,1237.1 L184.8,1242.0 L182.2,1247.0 L179.8,1252.0 L177.4,1257.0 L175.2,1262.1 L173.0,1267.2 L170.9,1272.3 L169.0,1277.4 L156.7,1274.0 L158.8,1268.7 L160.9,1263.4 L163.1,1258.1 L165.5,1252.9 L167.9,1247.7 L170.4,1242.5 L173.0,1237.4 L175.8,1232.3Z" fill="#bebebe"/>
<path d="M175.8,1232.3 L173.0,1237.4 L170.4,1242.5 L167.9,1247.7 L165.5,1252.9 L163.1,1258.1 L160.9,1263.4 L158.8,1268.7 L156.7,1274.0 L144.5,1270.5 L146.6,1265.1 L148.8,1259.6 L151.1,1254.2 L153.5,1248.8 L156.0,1243.4 L158.6,1238.1 L161.3,1232.8 L164.1,1227.6Z" fill="#bebebe"/>
<path d="M181.2,1280.9 L179.4,1285.9 L177.6,1290.9 L176.0,1296.0 L174.4,1301.0 L173.0,1306.1 L171.6,1311.3 L170.3,1316.4 L169.1,1321.5 L156.5,1319.5 L157.7,1314.1 L159.0,1308.8 L160.5,1303.5 L162.0,1298.3 L163.6,1293.0 L165.3,1287.8 L167.1,1282.6 L169.0,1277.4Z" fill="#f97858"/>
<path d="M169.0,1277.4 L167.1,1282.6 L165.3,1287.8 L163.6,1293.0 L162.0,1298.3 L160.5,1303.5 L159.0,1308.8 L157.7,1314.1 L156.5,1319.5 L143.9,1317.4 L145.1,1311.9 L146.5,1306.4 L147.9,1300.9 L149.5,1295.5 L151.2,1290.1 L152.9,1284.7 L154.8,1279.3 L156.7,1274.0Z" fill="#f97858"/>
<path d="M156.7,1274.0 L154.8,1279.3 L152.9,1284.7 L151.2,1290.1 L149.5,1295.5 L147.9,1300.9 L146.5,1306.4 L145.1,1311.9 L143.9,1317.4 L131.2,1315.3 L132.5,1309.6 L133.9,1304.0 L135.4,1298.3 L137.0,1292.7 L138.7,1287.1 L140.6,1281.6 L142.5,1276.0 L144.5,1270.5Z" fill="#bebebe"/>
<path d="M169.1,1321.5 L168.0,1326.7 L167.1,1331.9 L166.2,1337.1 L165.3,1342.3 L164.6,1347.5 L164.0,1352.7 L163.5,1358.0 L163.1,1363.2 L150.2,1362.5 L150.7,1357.1 L151.2,1351.7 L151.8,1346.3 L152.6,1340.9 L153.4,1335.5 L154.3,1330.1 L155.4,1324.8 L156.5,1319.5Z" fill="#f97858"/>
<path d="M156.5,1319.5 L155.4,1324.8 L154.3,1330.1 L153.4,1335.5 L152.6,1340.9 L151.8,1346.3 L151.2,1351.7 L150.7,1357.1 L150.2,1362.5 L137.4,1361.8 L137.8,1356.2 L138.4,1350.6 L139.1,1345.1 L139.8,1339.5 L140.7,1333.9 L141.6,1328.4 L142.7,1322.9 L143.9,1317.4Z" fill="#bebebe"/>
<path d="M143.9,1317.4 L142.7,1322.9 L141.6,1328.4 L140.7,1333.9 L139.8,1339.5 L139.1,1345.1 L138.4,1350.6 L137.8,1356.2 L137.4,1361.8 L124.5,1361.1 L125.0,1355.3 L125.6,1349.6 L126.3,1343.8 L127.0,1338.1 L127.9,1332.4 L128.9,1326.7 L130.0,1321.0 L131.2,1315.3Z" fill="#bebebe"/>
<path d="M163.1,1363.2 L162.7,1368.4 L162.5,1373.7 L162.3,1378.9 L162.3,1384.2 L162.3,1389.5 L162.5,1394.7 L162.7,1400.0 L163.1,1405.2 L150.2,1405.9 L149.9,1400.5 L149.6,1395.1 L149.5,1389.6 L149.4,1384.2 L149.5,1378.8 L149.6,1373.3 L149.9,1367.9 L150.2,1362.5Z" fill="#f97858"/>
<path d="M150.2,1362.5 L149.9,1367.9 L149.6,1373.3 L149.5,1378.8 L149.4,1384.2 L149.5,1389.6 L149.6,1395.1 L149.9,1400.5 L150.2,1405.9 L137.4,1406.6 L137.0,1401.0 L136.8,1395.4 L136.6,1389.8 L136.6,1384.2 L136.6,1378.6 L136.8,1373.0 L137.0,1367.4 L137.4,1361.8Z" fill="#bebebe"/>
<path d="M137.4,1361.8 L137.0,1367.4 L136.8,1373.0 L136.6,1378.6 L136.6,1384.2 L136.6,1389.8 L136.8,1395.4 L137.0,1401.0 L137.4,1406.6 L124.5,1407.3 L124.2,1401.5 L123.9,1395.8 L123.8,1390.0 L123.7,1384.2 L123.8,1378.4 L123.9,1372.6 L124.2,1366.9 L124.5,1361.1Z" fill="#bebebe"/>
<path d="M163.1,1405.2 L163.5,1410.4 L164.0,1415.7 L164.6,1420.9 L165.3,1426.1 L166.2,1431.3 L167.1,1436.5 L168.0,1441.7 L169.1,1446.9 L156.5,1448.9 L155.4,1443.6 L154.3,1438.3 L153.4,1432.9 L152.6,1427.5 L151.8,1422.1 L151.2,1416.7 L150.7,1411.3 L150.2,1405.9Z" fill="#f97858"/>
<path d="M150.2,1405.9 L150.7,1411.3 L151.2,1416.7 L151.8,1422.1 L152.6,1427.5 L153.4,1432.9 L154.3,1438.3 L155.4,1443.6 L156.5,1448.9 L143.9,1451.0 L142.7,1445.5 L141.6,1440.0 L140.7,1434.5 L139.8,1428.9 L139.1,1423.3 L138.4,1417.8 L137.8,1412.2 L137.4,1406.6Z" fill="#bebebe"/>
<path d="M137.4,1406.6 L137.8,1412.2 L138.4,1417.8 L139.1,1423.3 L139.8,1428.9 L140.7,1434.5 L141.6,1440.0 L142.7,1445.5 L143.9,1451.0 L131.2,1453.1 L130.0,1447.4 L128.9,1441.7 L127.9,1436.0 L127.0,1430.3 L126.3,1424.6 L125.6,1418.8 L125.0,1413.1 L124.5,1407.3Z" fill="#bebebe"/>
<path d="M169.1,1446.9 L170.3,1452.0 L171.6,1457.1 L173.0,1462.3 L174.4,1467.4 L176.0,1472.4 L177.6,1477.5 L179.4,1482.5 L181.2,1487.5 L169.0,1491.0 L167.1,1485.8 L165.3,1480.6 L163.6,1475.4 L162.0,1470.1 L160.5,1464.9 L159.0,1459.6 L157.7,1454.3 L156.5,1448.9Z" fill="#8fe67f"/>
<path d="M156.5,1448.9 L157.7,1454.3 L159.0,1459.6 L160.5,1464.9 L162.0,1470.1 L163.6,1475.4 L165.3,1480.6 L167.1,1485.8 L169.0,1491.0 L156.7,1494.4 L154.8,1489.1 L152.9,1483.7 L151.2,1478.3 L149.5,1472.9 L147.9,1467.5 L146.5,1462.0 L145.1,1456.5 L143.9,1451.0Z" fill="#bebebe"/>
<path d="M143.9,1451.0 L145.1,1456.5 L146.5,1462.0 L147.9,1467.5 L149.5,1472.9 L151.2,1478.3 L152.9,1483.7 L154.8,1489.1 L156.7,1494.4 L144.5,1497.9 L142.5,1492.4 L140.6,1486.8 L138.7,1481.3 L137.0,1475.7 L135.4,1470.1 L133.9,1464.4 L132.5,1458.8 L131.2,1453.1Z" fill="#bebebe"/>
<path d="M181.2,1487.5 L183.1,1492.5 L185.1,1497.5 L187.2,1502.4 L189.4,1507.3 L191.7,1512.2 L194.0,1517.0 L196.5,1521.8 L199.0,1526.6 L187.4,1531.3 L184.8,1526.4 L182.2,1521.4 L179.8,1516.4 L177.4,1511.4 L175.2,1506.3 L173.0,1501.2 L170.9,1496.1 L169.0,1491.0Z" fill="#8fe67f"/>
<path d="M169.0,1491.0 L170.9,1496.1 L173.0,1501.2 L175.2,1506.3 L177.4,1511.4 L179.8,1516.4 L182.2,1521.4 L184.8,1526.4 L187.4,1531.3 L175.8,1536.1 L173.0,1531.0 L170.4,1525.9 L167.9,1520.7 L165.5,1515.5 L163.1,1510.3 L160.9,1505.0 L158.8,1499.7 L156.7,1494.4Z" fill="#bebebe"/>
<path d="M156.7,1494.4 L158.8,1499.7 L160.9,1505.0 L163.1,1510.3 L165.5,1515.5 L167.9,1520.7 L170.4,1525.9 L173.0,1531.0 L175.8,1536.1 L164.1,1540.8 L161.3,1535.6 L158.6,1530.3 L156.0,1525.0 L153.5,1519.6 L151.1,1514.2 L148.8,1508.8 L146.6,1503.3 L144.5,1497.9Z" fill="#bebebe"/>
<path d="M199.0,1526.6 L201.7,1531.3 L204.4,1536.0 L207.2,1540.7 L210.0,1545.3 L213.0,1549.9 L216.1,1554.4 L219.2,1558.9 L222.4,1563.4 L211.5,1569.4 L208.2,1564.7 L205.0,1560.1 L201.8,1555.4 L198.8,1550.7 L195.8,1545.9 L192.9,1541.1 L190.1,1536.2 L187.4,1531.3Z" fill="#8fe67f"/>
<path d="M187.4,1531.3 L190.1,1536.2 L192.9,1541.1 L195.8,1545.9 L198.8,1550.7 L201.8,1555.4 L205.0,1560.1 L208.2,1564.7 L211.5,1569.4 L200.7,1575.3 L197.2,1570.6 L193.9,1565.8 L190.7,1560.9 L187.5,1556.0 L184.4,1551.1 L181.4,1546.1 L178.6,1541.1 L175.8,1536.1Z" fill="#bebebe"/>
<path d="M175.8,1536.1 L178.6,1541.1 L181.4,1546.1 L184.4,1551.1 L187.5,1556.0 L190.7,1560.9 L193.9,1565.8 L197.2,1570.6 L200.7,1575.3 L189.8,1581.3 L186.3,1576.4 L182.8,1571.4 L179.5,1566.4 L176.2,1561.4 L173.1,1556.3 L170.0,1551.2 L167.0,1546.0 L164.1,1540.8Z" fill="#bebebe"/>
<path d="M222.4,1563.4 L225.7,1567.8 L229.0,1572.2 L232.5,1576.5 L236.0,1580.8 L239.6,1585.0 L243.3,1589.2 L247.1,1593.3 L250.9,1597.4 L241.0,1604.5 L237.0,1600.3 L233.1,1596.0 L229.3,1591.7 L225.6,1587.3 L222.0,1582.9 L218.4,1578.4 L214.9,1573.9 L211.5,1569.4Z" fill="#8fe67f"/>
<path d="M211.5,1569.4 L214.9,1573.9 L218.4,1578.4 L222.0,1582.9 L225.6,1587.3 L229.3,1591.7 L233.1,1596.0 L237.0,1600.3 L241.0,1604.5 L231.1,1611.6 L227.0,1607.2 L223.0,1602.8 L219.0,1598.4 L215.2,1593.9 L211.4,1589.3 L207.8,1584.7 L204.2,1580.0 L200.7,1575.3Z" fill="#bebebe"/>
<path d="M200.7,1575.3 L204.2,1580.0 L207.8,1584.7 L211.4,1589.3 L215.2,1593.9 L219.0,1598.4 L223.0,1602.8 L227.0,1607.2 L231.1,1611.6 L221.1,1618.7 L216.9,1614.2 L212.8,1609.7 L208.8,1605.1 L204.8,1600.4 L200.9,1595.7 L197.1,1591.0 L193.4,1586.2 L189.8,1581.3Z" fill="#bebebe"/>
<path d="M250.9,1597.4 L254.8,1601.4 L258.8,1605.3 L262.8,1609.3 L266.9,1613.1 L271.1,1616.9 L275.4,1620.7 L279.7,1624.3 L284.1,1628.0 L275.3,1636.1 L270.7,1632.3 L266.3,1628.5 L261.9,1624.7 L257.5,1620.7 L253.3,1616.8 L249.1,1612.7 L245.0,1608.6 L241.0,1604.5Z" fill="#8fe67f"/>
<path d="M241.0,1604.5 L245.0,1608.6 L249.1,1612.7 L253.3,1616.8 L257.5,1620.7 L261.9,1624.7 L266.3,1628.5 L270.7,1632.3 L275.3,1636.1 L266.4,1644.2 L261.8,1640.4 L257.2,1636.4 L252.6,1632.4 L248.2,1628.4 L243.8,1624.3 L239.5,1620.1 L235.2,1615.9 L231.1,1611.6Z" fill="#bebebe"/>
<path d="M231.1,1611.6 L235.2,1615.9 L239.5,1620.1 L243.8,1624.3 L248.2,1628.4 L252.6,1632.4 L257.2,1636.4 L261.8,1640.4 L266.4,1644.2 L257.6,1652.3 L252.8,1648.4 L248.1,1644.3 L243.4,1640.2 L238.8,1636.0 L234.3,1631.8 L229.8,1627.5 L225.4,1623.1 L221.1,1618.7Z" fill="#bebebe"/>
<path d="M284.1,1628.0 L288.5,1631.5 L293.0,1635.0 L297.6,1638.5 L302.3,1641.9 L307.0,1645.2 L311.7,1648.4 L316.5,1651.6 L321.4,1654.7 L313.9,1663.8 L308.8,1660.5 L303.8,1657.2 L298.9,1653.9 L294.1,1650.4 L289.3,1647.0 L284.5,1643.4 L279.9,1639.8 L275.3,1636.1Z" fill="#5cf24c"/>
<path d="M275.3,1636.1 L279.9,1639.8 L284.5,1643.4 L289.3,1647.0 L294.1,1650.4 L298.9,1653.9 L303.8,1657.2 L308.8,1660.5 L313.9,1663.8 L306.3,1672.8 L301.1,1669.4 L295.9,1666.0 L290.9,1662.6 L285.9,1659.0 L280.9,1655.4 L276.0,1651.8 L271.2,1648.0 L266.4,1644.2Z" fill="#bebebe"/>
<path d="M266.4,1644.2 L271.2,1648.0 L276.0,1651.8 L280.9,1655.4 L285.9,1659.0 L290.9,1662.6 L295.9,1666.0 L301.1,1669.4 L306.3,1672.8 L298.7,1681.8 L293.4,1678.4 L288.1,1674.9 L282.8,1671.3 L277.6,1667.6 L272.5,1663.9 L267.5,1660.1 L262.5,1656.3 L257.6,1652.3Z" fill="#bebebe"/>
<path d="M321.4,1654.7 L326.3,1657.8 L331.3,1660.8 L336.4,1663.7 L341.5,1666.5 L346.6,1669.3 L351.8,1672.0 L357.1,1674.7 L362.3,1677.2 L356.1,1687.0 L350.7,1684.4 L345.3,1681.6 L339.9,1678.8 L334.6,1676.0 L329.3,1673.0 L324.1,1670.0 L318.9,1666.9 L313.9,1663.8Z" fill="#18ff18"/>
<path d="M313.9,1663.8 L318.9,1666.9 L324.1,1670.0 L329.3,1673.0 L334.6,1676.0 L339.9,1678.8 L345.3,1681.6 L350.7,1684.4 L356.1,1687.0 L349.9,1696.8 L344.3,1694.0 L338.7,1691.2 L333.2,1688.3 L327.7,1685.4 L322.2,1682.3 L316.9,1679.2 L311.6,1676.0 L306.3,1672.8Z" fill="#bebebe"/>
<path d="M306.3,1672.8 L311.6,1676.0 L316.9,1679.2 L322.2,1682.3 L327.7,1685.4 L333.2,1688.3 L338.7,1691.2 L344.3,1694.0 L349.9,1696.8 L343.7,1706.5 L337.9,1703.7 L332.2,1700.8 L326.4,1697.8 L320.8,1694.8 L315.2,1691.6 L309.6,1688.4 L304.2,1685.1 L298.7,1681.8Z" fill="#bebebe"/>
<path d="M362.3,1677.2 L367.7,1679.7 L373.1,1682.2 L378.5,1684.5 L383.9,1686.8 L389.5,1689.0 L395.0,1691.1 L400.6,1693.1 L406.2,1695.1 L401.5,1705.5 L395.7,1703.4 L389.9,1701.3 L384.2,1699.1 L378.5,1696.9 L372.8,1694.5 L367.2,1692.1 L361.7,1689.6 L356.1,1687.0Z" fill="#18ff18"/>
<path d="M356.1,1687.0 L361.7,1689.6 L367.2,1692.1 L372.8,1694.5 L378.5,1696.9 L384.2,1699.1 L389.9,1701.3 L395.7,1703.4 L401.5,1705.5 L396.7,1715.8 L390.7,1713.7 L384.8,1711.6 L378.9,1709.3 L373.0,1706.9 L367.2,1704.5 L361.4,1702.0 L355.6,1699.4 L349.9,1696.8Z" fill="#bebebe"/>
<path d="M349.9,1696.8 L355.6,1699.4 L361.4,1702.0 L367.2,1704.5 L373.0,1706.9 L378.9,1709.3 L384.8,1711.6 L390.7,1713.7 L396.7,1715.8 L392.0,1726.2 L385.8,1724.0 L379.7,1721.8 L373.6,1719.5 L367.5,1717.0 L361.5,1714.5 L355.5,1711.9 L349.6,1709.3 L343.7,1706.5Z" fill="#bebebe"/>
<path d="M406.2,1695.1 L411.9,1697.0 L417.5,1698.8 L423.3,1700.6 L429.0,1702.2 L434.8,1703.8 L440.6,1705.3 L446.4,1706.7 L452.3,1708.1 L449.1,1718.9 L443.0,1717.5 L437.0,1716.0 L431.0,1714.5 L425.0,1712.8 L419.1,1711.1 L413.2,1709.3 L407.3,1707.4 L401.5,1705.5Z" fill="#18ff18"/>
<path d="M401.5,1705.5 L407.3,1707.4 L413.2,1709.3 L419.1,1711.1 L425.0,1712.8 L431.0,1714.5 L437.0,1716.0 L443.0,1717.5 L449.1,1718.9 L445.9,1729.7 L439.7,1728.3 L433.4,1726.7 L427.2,1725.1 L421.1,1723.4 L414.9,1721.7 L408.8,1719.8 L402.8,1717.9 L396.7,1715.8Z" fill="#bebebe"/>
<path d="M396.7,1715.8 L402.8,1717.9 L408.8,1719.8 L414.9,1721.7 L421.1,1723.4 L427.2,1725.1 L433.4,1726.7 L439.7,1728.3 L445.9,1729.7 L442.7,1740.5 L436.3,1739.0 L429.8,1737.4 L423.5,1735.8 L417.1,1734.0 L410.8,1732.2 L404.5,1730.3 L398.2,1728.3 L392.0,1726.2Z" fill="#5cf24c"/>
<path d="M452.3,1708.1 L458.2,1709.4 L464.1,1710.5 L470.0,1711.7 L476.0,1712.7 L481.9,1713.6 L487.9,1714.5 L493.9,1715.3 L499.9,1716.0 L498.3,1727.0 L492.1,1726.3 L485.9,1725.5 L479.7,1724.6 L473.6,1723.6 L467.4,1722.6 L461.3,1721.4 L455.2,1720.2 L449.1,1718.9Z" fill="#18ff18"/>
<path d="M449.1,1718.9 L455.2,1720.2 L461.3,1721.4 L467.4,1722.6 L473.6,1723.6 L479.7,1724.6 L485.9,1725.5 L492.1,1726.3 L498.3,1727.0 L496.7,1738.1 L490.3,1737.3 L483.9,1736.5 L477.5,1735.6 L471.1,1734.6 L464.8,1733.5 L458.5,1732.3 L452.2,1731.0 L445.9,1729.7Z" fill="#bebebe"/>
<path d="M445.9,1729.7 L452.2,1731.0 L458.5,1732.3 L464.8,1733.5 L471.1,1734.6 L477.5,1735.6 L483.9,1736.5 L490.3,1737.3 L496.7,1738.1 L495.1,1749.1 L488.5,1748.4 L481.9,1747.5 L475.3,1746.6 L468.7,1745.5 L462.2,1744.4 L455.7,1743.2 L449.2,1741.9 L442.7,1740.5Z" fill="#bebebe"/>
<path d="M499.9,1716.0 L505.9,1716.6 L512.0,1717.1 L518.0,1717.6 L524.1,1717.9 L530.1,1718.2 L536.2,1718.4 L542.2,1718.6 L548.3,1718.6 L548.3,1729.7 L542.0,1729.7 L535.8,1729.6 L529.5,1729.4 L523.3,1729.1 L517.0,1728.7 L510.8,1728.2 L504.5,1727.7 L498.3,1727.0Z" fill="#18ff18"/>
<path d="M498.3,1727.0 L504.5,1727.7 L510.8,1728.2 L517.0,1728.7 L523.3,1729.1 L529.5,1729.4 L535.8,1729.6 L542.0,1729.7 L548.3,1729.7 L548.3,1740.9 L541.8,1740.8 L535.4,1740.7 L528.9,1740.5 L522.4,1740.2 L516.0,1739.8 L509.6,1739.3 L503.1,1738.7 L496.7,1738.1Z" fill="#bebebe"/>
<path d="M496.7,1738.1 L503.1,1738.7 L509.6,1739.3 L516.0,1739.8 L522.4,1740.2 L528.9,1740.5 L535.4,1740.7 L541.8,1740.8 L548.3,1740.9 L548.3,1752.0 L541.6,1752.0 L535.0,1751.9 L528.3,1751.6 L521.6,1751.3 L515.0,1750.9 L508.3,1750.4 L501.7,1749.8 L495.1,1749.1Z" fill="#5cf24c"/>
</g>
<g stroke="#000" stroke-opacity="0.7" stroke-width="1.15" stroke-linejoin="round">
<path d="M1594.6,1045.6 L1601.2,1045.6 L1607.8,1045.8 L1614.4,1046.0 L1621.0,1046.4 L1627.6,1046.8 L1634.2,1047.4 L1640.7,1048.0 L1647.3,1048.7 L1653.8,1049.6 L1660.4,1050.5 L1666.9,1051.5 L1673.3,1052.6 L1679.8,1053.9 L1686.2,1055.2 L1692.6,1056.6 L1699.0,1058.1 L1705.3,1059.7 L1711.7,1061.4 L1717.9,1063.2 L1724.2,1065.0 L1730.4,1067.0 L1736.5,1069.1 L1742.7,1071.2 L1748.8,1073.5 L1754.8,1075.8 L1770.8,1045.4 L1764.2,1042.8 L1757.5,1040.4 L1750.7,1038.0 L1744.0,1035.7 L1737.1,1033.6 L1730.3,1031.5 L1723.4,1029.5 L1716.4,1027.7 L1709.4,1025.9 L1702.4,1024.3 L1695.4,1022.7 L1688.3,1021.3 L1681.2,1019.9 L1674.1,1018.7 L1666.9,1017.6 L1659.8,1016.5 L1652.6,1015.6 L1645.4,1014.8 L1638.1,1014.1 L1630.9,1013.5 L1623.7,1013.0 L1616.4,1012.7 L1609.1,1012.4 L1601.9,1012.2 L1594.6,1012.2Z" fill="#94c094"/>
<path d="M1754.8,1075.8 L1760.7,1078.2 L1766.5,1080.6 L1772.3,1083.2 L1778.0,1085.8 L1783.6,1088.5 L1789.3,1091.3 L1794.8,1094.2 L1800.3,1097.1 L1805.8,1100.2 L1811.2,1103.3 L1816.5,1106.5 L1821.8,1109.8 L1827.0,1113.1 L1832.1,1116.5 L1837.2,1120.0 L1842.2,1123.6 L1847.1,1127.2 L1872.4,1102.0 L1866.9,1098.0 L1861.4,1094.0 L1855.9,1090.2 L1850.2,1086.4 L1844.5,1082.8 L1838.7,1079.2 L1832.8,1075.6 L1826.9,1072.2 L1820.9,1068.9 L1814.9,1065.6 L1808.7,1062.5 L1802.6,1059.4 L1796.3,1056.4 L1790.0,1053.5 L1783.7,1050.7 L1777.3,1048.0 L1770.8,1045.4Z" fill="#bab0c7"/>
<path d="M1847.1,1127.2 L1852.1,1131.1 L1857.1,1135.0 L1862.0,1139.0 L1866.8,1143.1 L1871.5,1147.2 L1876.1,1151.4 L1880.6,1155.7 L1885.1,1160.0 L1889.5,1164.4 L1893.7,1168.9 L1897.9,1173.5 L1902.0,1178.1 L1906.0,1182.7 L1909.9,1187.4 L1913.7,1192.2 L1917.5,1197.1 L1921.1,1202.0 L1924.6,1206.9 L1928.0,1211.9 L1931.3,1217.0 L1934.5,1222.1 L1937.7,1227.2 L1940.7,1232.4 L1943.6,1237.6 L1946.4,1242.9 L1949.1,1248.2 L1951.7,1253.6 L1954.1,1259.0 L1956.5,1264.4 L1958.8,1269.9 L1960.9,1275.4 L1962.9,1281.0 L1964.9,1286.5 L1966.7,1292.1 L1968.4,1297.7 L1970.0,1303.4 L1971.5,1309.1 L1972.8,1314.8 L1974.1,1320.5 L1975.2,1326.2 L1976.2,1331.9 L1977.1,1337.7 L1977.9,1343.5 L1978.6,1349.3 L1979.1,1355.0 L1979.6,1360.8 L1979.9,1366.6 L1980.1,1372.5 L1980.2,1378.3 L1980.2,1384.1 L1980.0,1389.9 L1979.8,1395.7 L1979.4,1401.5 L1978.9,1407.3 L1978.3,1413.1 L1977.6,1418.9 L1976.7,1424.6 L1975.8,1430.4 L1974.7,1436.1 L1973.5,1441.8 L1972.2,1447.5 L1970.8,1453.2 L1969.2,1458.9 L1967.6,1464.5 L1965.8,1470.1 L1964.0,1475.7 L1962.0,1481.3 L1959.9,1486.8 L1957.7,1492.3 L1955.4,1497.7 L1953.0,1503.2 L1950.4,1508.5 L1947.8,1513.9 L1945.1,1519.2 L1942.2,1524.4 L1939.3,1529.7 L1936.2,1534.8 L1933.0,1540.0 L1966.9,1556.0 L1970.4,1550.3 L1973.7,1544.7 L1977.0,1538.9 L1980.1,1533.1 L1983.1,1527.3 L1986.0,1521.4 L1988.8,1515.5 L1991.5,1509.5 L1994.0,1503.5 L1996.4,1497.5 L1998.7,1491.4 L2000.9,1485.3 L2003.0,1479.2 L2004.9,1473.0 L2006.7,1466.8 L2008.4,1460.6 L2010.0,1454.3 L2011.4,1448.1 L2012.7,1441.8 L2013.9,1435.4 L2014.9,1429.1 L2015.9,1422.8 L2016.7,1416.4 L2017.3,1410.1 L2017.9,1403.7 L2018.3,1397.3 L2018.6,1390.9 L2018.7,1384.5 L2018.8,1378.1 L2018.7,1371.7 L2018.4,1365.3 L2018.1,1358.9 L2017.6,1352.6 L2017.0,1346.2 L2016.2,1339.8 L2015.4,1333.5 L2014.4,1327.1 L2013.3,1320.8 L2012.0,1314.5 L2010.6,1308.2 L2009.1,1302.0 L2007.5,1295.7 L2005.8,1289.5 L2003.9,1283.4 L2001.9,1277.2 L1999.8,1271.1 L1997.5,1265.0 L1995.2,1258.9 L1992.7,1252.9 L1990.1,1246.9 L1987.4,1241.0 L1984.5,1235.1 L1981.6,1229.2 L1978.5,1223.4 L1975.3,1217.7 L1972.0,1211.9 L1968.5,1206.3 L1965.0,1200.7 L1961.3,1195.1 L1957.6,1189.6 L1953.7,1184.2 L1949.7,1178.8 L1945.7,1173.5 L1941.5,1168.2 L1937.2,1163.0 L1932.8,1157.9 L1928.3,1152.8 L1923.6,1147.8 L1918.9,1142.9 L1914.1,1138.0 L1909.2,1133.3 L1904.2,1128.6 L1899.2,1123.9 L1894.0,1119.4 L1888.7,1114.9 L1883.3,1110.5 L1877.9,1106.2 L1872.4,1102.0Z" fill="#dfbb98"/>
<path d="M1933.0,1540.0 L1929.8,1545.0 L1926.4,1550.0 L1923.0,1554.9 L1919.5,1559.8 L1915.8,1564.7 L1912.1,1569.5 L1908.3,1574.2 L1904.3,1578.8 L1900.3,1583.5 L1896.2,1588.0 L1892.0,1592.5 L1887.8,1596.9 L1883.4,1601.3 L1878.9,1605.6 L1874.4,1609.8 L1869.8,1613.9 L1865.1,1618.0 L1860.3,1622.0 L1855.4,1626.0 L1850.5,1629.8 L1845.4,1633.6 L1840.3,1637.3 L1835.2,1641.0 L1829.9,1644.5 L1824.6,1648.0 L1819.2,1651.4 L1813.8,1654.8 L1808.3,1658.0 L1802.7,1661.2 L1797.1,1664.2 L1791.4,1667.2 L1785.6,1670.1 L1779.8,1672.9 L1773.9,1675.7 L1768.0,1678.3 L1762.0,1680.9 L1756.0,1683.3 L1749.9,1685.7 L1743.8,1688.0 L1737.6,1690.2 L1731.4,1692.3 L1725.2,1694.3 L1718.9,1696.2 L1712.6,1698.0 L1706.2,1699.7 L1699.8,1701.3 L1693.4,1702.8 L1686.9,1704.3 L1680.5,1705.6 L1674.0,1706.8 L1667.4,1708.0 L1660.9,1709.0 L1654.3,1710.0 L1647.7,1710.8 L1641.1,1711.6 L1634.5,1712.2 L1627.9,1712.8 L1621.2,1713.2 L1614.6,1713.6 L1607.9,1713.8 L1601.3,1714.0 L1594.6,1714.0 L1594.6,1747.4 L1601.9,1747.4 L1609.3,1747.2 L1616.6,1746.9 L1623.9,1746.5 L1631.2,1746.0 L1638.5,1745.4 L1645.8,1744.7 L1653.0,1743.9 L1660.3,1743.0 L1667.5,1741.9 L1674.7,1740.8 L1681.9,1739.6 L1689.1,1738.2 L1696.2,1736.7 L1703.3,1735.1 L1710.3,1733.5 L1717.4,1731.7 L1724.4,1729.8 L1731.3,1727.8 L1738.2,1725.7 L1745.1,1723.5 L1751.9,1721.2 L1758.7,1718.8 L1765.5,1716.3 L1772.1,1713.7 L1778.8,1711.0 L1785.3,1708.2 L1791.9,1705.3 L1798.3,1702.2 L1804.7,1699.2 L1811.0,1696.0 L1817.3,1692.7 L1823.5,1689.3 L1829.6,1685.8 L1835.7,1682.3 L1841.7,1678.6 L1847.6,1674.9 L1853.5,1671.0 L1859.2,1667.1 L1864.9,1663.1 L1870.5,1659.0 L1876.0,1654.8 L1881.5,1650.6 L1886.8,1646.2 L1892.1,1641.8 L1897.3,1637.3 L1902.4,1632.8 L1907.4,1628.1 L1912.3,1623.4 L1917.1,1618.6 L1921.8,1613.8 L1926.4,1608.8 L1930.9,1603.8 L1935.3,1598.7 L1939.6,1593.6 L1943.8,1588.4 L1948.0,1583.2 L1952.0,1577.8 L1955.8,1572.5 L1959.6,1567.0 L1963.3,1561.5 L1966.9,1556.0Z" fill="#e1e1a3"/>
</g>
<g stroke="#000" stroke-opacity="0.78" stroke-width="1.15" stroke-linejoin="round">
<path d="M1594.6,1045.6 Q1594.6,1379.8 1424.1,1080.1 L1418.4,1082.5 Q1594.6,1379.8 1608.4,1045.8Z" fill="#7fc97f"/>
<path d="M1608.4,1045.8 Q1594.6,1379.8 1209.0,1379.8 L1209.1,1385.3 Q1594.6,1379.8 1622.1,1046.5Z" fill="#7fc97f"/>
<path d="M1622.1,1046.5 Q1594.6,1379.8 1209.8,1401.7 L1210.5,1408.9 Q1594.6,1379.8 1635.8,1047.5Z" fill="#7fc97f"/>
<path d="M1635.8,1047.5 Q1594.6,1379.8 1212.3,1423.4 L1214.2,1434.2 Q1594.6,1379.8 1649.5,1049.0Z" fill="#7fc97f"/>
<path d="M1649.5,1049.0 Q1594.6,1379.8 1216.4,1445.0 L1217.7,1450.4 Q1594.6,1379.8 1663.1,1050.9Z" fill="#7fc97f"/>
<path d="M1663.1,1050.9 Q1594.6,1379.8 1222.1,1466.3 L1223.8,1471.6 Q1594.6,1379.8 1676.6,1053.2Z" fill="#7fc97f"/>
<path d="M1676.6,1053.2 Q1594.6,1379.8 1229.5,1487.2 L1231.5,1492.4 Q1594.6,1379.8 1690.0,1056.0Z" fill="#7fc97f"/>
<path d="M1690.0,1056.0 Q1594.6,1379.8 1238.4,1507.7 L1241.7,1514.4 Q1594.6,1379.8 1703.2,1059.1Z" fill="#7fc97f"/>
<path d="M1703.2,1059.1 Q1594.6,1379.8 1401.8,1669.2 L1424.1,1679.5 Q1594.6,1379.8 1716.4,1062.7Z" fill="#7fc97f"/>
<path d="M1716.4,1062.7 Q1594.6,1379.8 1470.7,1696.3 L1494.8,1702.6 Q1594.6,1379.8 1729.4,1066.7Z" fill="#7fc97f"/>
<path d="M1729.4,1066.7 Q1594.6,1379.8 1494.8,1702.6 L1519.4,1707.6 Q1594.6,1379.8 1742.2,1071.0Z" fill="#7fc97f"/>
<path d="M1742.2,1071.0 Q1594.6,1379.8 1519.4,1707.6 L1544.3,1711.1 Q1594.6,1379.8 1754.8,1075.8Z" fill="#7fc97f"/>
<path d="M1754.8,1075.8 Q1594.6,1379.8 1418.4,1082.5 L1412.8,1085.1 Q1594.6,1379.8 1767.2,1080.9Z" fill="#beaed4"/>
<path d="M1767.2,1080.9 Q1594.6,1379.8 1209.1,1385.3 L1209.2,1390.7 Q1594.6,1379.8 1779.4,1086.5Z" fill="#beaed4"/>
<path d="M1779.4,1086.5 Q1594.6,1379.8 1210.5,1408.9 L1211.3,1416.2 Q1594.6,1379.8 1791.4,1092.4Z" fill="#beaed4"/>
<path d="M1791.4,1092.4 Q1594.6,1379.8 1217.7,1450.4 L1219.1,1455.7 Q1594.6,1379.8 1803.1,1098.7Z" fill="#beaed4"/>
<path d="M1803.1,1098.7 Q1594.6,1379.8 1223.8,1471.6 L1225.6,1476.8 Q1594.6,1379.8 1814.5,1105.3Z" fill="#beaed4"/>
<path d="M1814.5,1105.3 Q1594.6,1379.8 1231.5,1492.4 L1233.7,1497.5 Q1594.6,1379.8 1825.7,1112.3Z" fill="#beaed4"/>
<path d="M1825.7,1112.3 Q1594.6,1379.8 1248.8,1527.6 L1252.6,1534.1 Q1594.6,1379.8 1836.6,1119.6Z" fill="#beaed4"/>
<path d="M1836.6,1119.6 Q1594.6,1379.8 1260.7,1546.9 L1264.9,1553.2 Q1594.6,1379.8 1847.1,1127.2Z" fill="#beaed4"/>
<path d="M1847.1,1127.2 Q1594.6,1379.8 1594.6,1045.6 L1582.0,1045.8 Q1594.6,1379.8 1857.4,1135.2Z" fill="#fdc086"/>
<path d="M1857.4,1135.2 Q1594.6,1379.8 1569.4,1046.3 L1556.8,1047.2 Q1594.6,1379.8 1867.3,1143.5Z" fill="#fdc086"/>
<path d="M1867.3,1143.5 Q1594.6,1379.8 1544.3,1048.5 L1531.8,1050.1 Q1594.6,1379.8 1876.8,1152.1Z" fill="#fdc086"/>
<path d="M1876.8,1152.1 Q1594.6,1379.8 1519.4,1052.0 L1507.0,1054.3 Q1594.6,1379.8 1886.0,1160.9Z" fill="#fdc086"/>
<path d="M1886.0,1160.9 Q1594.6,1379.8 1494.8,1057.0 L1482.7,1060.0 Q1594.6,1379.8 1894.8,1170.1Z" fill="#fdc086"/>
<path d="M1894.8,1170.1 Q1594.6,1379.8 1470.7,1063.3 L1447.0,1071.0 Q1594.6,1379.8 1903.3,1179.5Z" fill="#fdc086"/>
<path d="M1903.3,1179.5 Q1594.6,1379.8 1447.0,1071.0 L1424.1,1080.1 Q1594.6,1379.8 1911.3,1189.2Z" fill="#fdc086"/>
<path d="M1911.3,1189.2 Q1594.6,1379.8 1412.8,1085.1 L1407.3,1087.7 Q1594.6,1379.8 1919.0,1199.1Z" fill="#fdc086"/>
<path d="M1919.0,1199.1 Q1594.6,1379.8 1401.8,1090.4 L1380.4,1101.9 Q1594.6,1379.8 1926.2,1209.3Z" fill="#fdc086"/>
<path d="M1926.2,1209.3 Q1594.6,1379.8 1380.4,1101.9 L1359.9,1114.7 Q1594.6,1379.8 1933.0,1219.6Z" fill="#fdc086"/>
<path d="M1933.0,1219.6 Q1594.6,1379.8 1359.9,1114.7 L1350.0,1121.5 Q1594.6,1379.8 1939.4,1230.2Z" fill="#fdc086"/>
<path d="M1939.4,1230.2 Q1594.6,1379.8 1340.4,1128.5 L1321.9,1143.5 Q1594.6,1379.8 1945.4,1241.0Z" fill="#fdc086"/>
<path d="M1945.4,1241.0 Q1594.6,1379.8 1321.9,1143.5 L1313.2,1151.3 Q1594.6,1379.8 1950.8,1251.9Z" fill="#fdc086"/>
<path d="M1950.8,1251.9 Q1594.6,1379.8 1304.7,1159.4 L1296.5,1167.8 Q1594.6,1379.8 1955.9,1263.0Z" fill="#fdc086"/>
<path d="M1955.9,1263.0 Q1594.6,1379.8 1288.7,1176.4 L1274.0,1194.1 Q1594.6,1379.8 1960.5,1274.3Z" fill="#fdc086"/>
<path d="M1960.5,1274.3 Q1594.6,1379.8 1274.0,1194.1 L1267.1,1203.3 Q1594.6,1379.8 1964.6,1285.6Z" fill="#fdc086"/>
<path d="M1964.6,1285.6 Q1594.6,1379.8 1260.7,1212.7 L1254.5,1222.3 Q1594.6,1379.8 1968.2,1297.2Z" fill="#fdc086"/>
<path d="M1968.2,1297.2 Q1594.6,1379.8 1248.8,1232.0 L1243.4,1241.9 Q1594.6,1379.8 1971.4,1308.8Z" fill="#fdc086"/>
<path d="M1971.4,1308.8 Q1594.6,1379.8 1238.4,1251.9 L1229.5,1272.4 Q1594.6,1379.8 1974.1,1320.5Z" fill="#fdc086"/>
<path d="M1974.1,1320.5 Q1594.6,1379.8 1229.5,1272.4 L1222.1,1293.3 Q1594.6,1379.8 1976.3,1332.2Z" fill="#fdc086"/>
<path d="M1976.3,1332.2 Q1594.6,1379.8 1222.1,1293.3 L1216.4,1314.6 Q1594.6,1379.8 1978.0,1344.1Z" fill="#fdc086"/>
<path d="M1978.0,1344.1 Q1594.6,1379.8 1216.4,1314.6 L1214.2,1325.4 Q1594.6,1379.8 1979.2,1356.0Z" fill="#fdc086"/>
<path d="M1979.2,1356.0 Q1594.6,1379.8 1212.3,1336.2 L1210.9,1347.0 Q1594.6,1379.8 1980.0,1367.9Z" fill="#fdc086"/>
<path d="M1980.0,1367.9 Q1594.6,1379.8 1209.8,1357.9 L1209.2,1368.9 Q1594.6,1379.8 1980.2,1379.8Z" fill="#fdc086"/>
<path d="M1980.2,1379.8 Q1594.6,1379.8 1209.2,1390.7 L1209.5,1396.2 Q1594.6,1379.8 1980.0,1391.7Z" fill="#fdc086"/>
<path d="M1980.0,1391.7 Q1594.6,1379.8 1211.3,1416.2 L1212.3,1423.4 Q1594.6,1379.8 1979.2,1403.6Z" fill="#fdc086"/>
<path d="M1979.2,1403.6 Q1594.6,1379.8 1214.2,1434.2 L1216.4,1445.0 Q1594.6,1379.8 1978.0,1415.5Z" fill="#fdc086"/>
<path d="M1978.0,1415.5 Q1594.6,1379.8 1219.1,1455.7 L1220.6,1461.0 Q1594.6,1379.8 1976.3,1427.4Z" fill="#fdc086"/>
<path d="M1976.3,1427.4 Q1594.6,1379.8 1225.6,1476.8 L1227.5,1482.0 Q1594.6,1379.8 1974.1,1439.1Z" fill="#fdc086"/>
<path d="M1974.1,1439.1 Q1594.6,1379.8 1233.7,1497.5 L1236.0,1502.6 Q1594.6,1379.8 1971.4,1450.8Z" fill="#fdc086"/>
<path d="M1971.4,1450.8 Q1594.6,1379.8 1241.7,1514.4 L1245.1,1521.0 Q1594.6,1379.8 1968.2,1462.4Z" fill="#fdc086"/>
<path d="M1968.2,1462.4 Q1594.6,1379.8 1252.6,1534.1 L1256.5,1540.5 Q1594.6,1379.8 1964.6,1474.0Z" fill="#fdc086"/>
<path d="M1964.6,1474.0 Q1594.6,1379.8 1264.9,1553.2 L1269.4,1559.4 Q1594.6,1379.8 1960.5,1485.3Z" fill="#fdc086"/>
<path d="M1960.5,1485.3 Q1594.6,1379.8 1274.0,1565.5 L1288.7,1583.2 Q1594.6,1379.8 1955.9,1496.6Z" fill="#fdc086"/>
<path d="M1955.9,1496.6 Q1594.6,1379.8 1288.7,1583.2 L1296.5,1591.8 Q1594.6,1379.8 1950.8,1507.7Z" fill="#fdc086"/>
<path d="M1950.8,1507.7 Q1594.6,1379.8 1304.7,1600.2 L1313.2,1608.3 Q1594.6,1379.8 1945.4,1518.6Z" fill="#fdc086"/>
<path d="M1945.4,1518.6 Q1594.6,1379.8 1321.9,1616.1 L1340.4,1631.1 Q1594.6,1379.8 1939.4,1529.4Z" fill="#fdc086"/>
<path d="M1939.4,1529.4 Q1594.6,1379.8 1340.4,1631.1 L1359.9,1644.9 Q1594.6,1379.8 1933.0,1540.0Z" fill="#fdc086"/>
<path d="M1933.0,1540.0 Q1594.6,1379.8 1582.0,1045.8 L1569.4,1046.3 Q1594.6,1379.8 1926.2,1550.3Z" fill="#ffff99"/>
<path d="M1926.2,1550.3 Q1594.6,1379.8 1556.8,1047.2 L1544.3,1048.5 Q1594.6,1379.8 1919.0,1560.5Z" fill="#ffff99"/>
<path d="M1919.0,1560.5 Q1594.6,1379.8 1531.8,1050.1 L1519.4,1052.0 Q1594.6,1379.8 1911.3,1570.4Z" fill="#ffff99"/>
<path d="M1911.3,1570.4 Q1594.6,1379.8 1507.0,1054.3 L1494.8,1057.0 Q1594.6,1379.8 1903.3,1580.1Z" fill="#ffff99"/>
<path d="M1903.3,1580.1 Q1594.6,1379.8 1482.7,1060.0 L1470.7,1063.3 Q1594.6,1379.8 1894.8,1589.5Z" fill="#ffff99"/>
<path d="M1894.8,1589.5 Q1594.6,1379.8 1407.3,1087.7 L1401.8,1090.4 Q1594.6,1379.8 1886.0,1598.7Z" fill="#ffff99"/>
<path d="M1886.0,1598.7 Q1594.6,1379.8 1350.0,1121.5 L1340.4,1128.5 Q1594.6,1379.8 1876.8,1607.5Z" fill="#ffff99"/>
<path d="M1876.8,1607.5 Q1594.6,1379.8 1313.2,1151.3 L1304.7,1159.4 Q1594.6,1379.8 1867.3,1616.1Z" fill="#ffff99"/>
<path d="M1867.3,1616.1 Q1594.6,1379.8 1296.5,1167.8 L1288.7,1176.4 Q1594.6,1379.8 1857.4,1624.4Z" fill="#ffff99"/>
<path d="M1857.4,1624.4 Q1594.6,1379.8 1267.1,1203.3 L1260.7,1212.7 Q1594.6,1379.8 1847.1,1632.4Z" fill="#ffff99"/>
<path d="M1847.1,1632.4 Q1594.6,1379.8 1254.5,1222.3 L1248.8,1232.0 Q1594.6,1379.8 1836.6,1640.0Z" fill="#ffff99"/>
<path d="M1836.6,1640.0 Q1594.6,1379.8 1243.4,1241.9 L1238.4,1251.9 Q1594.6,1379.8 1825.7,1647.3Z" fill="#ffff99"/>
<path d="M1825.7,1647.3 Q1594.6,1379.8 1214.2,1325.4 L1212.3,1336.2 Q1594.6,1379.8 1814.5,1654.3Z" fill="#ffff99"/>
<path d="M1814.5,1654.3 Q1594.6,1379.8 1210.9,1347.0 L1209.8,1357.9 Q1594.6,1379.8 1803.1,1660.9Z" fill="#ffff99"/>
<path d="M1803.1,1660.9 Q1594.6,1379.8 1209.2,1368.9 L1209.0,1379.8 Q1594.6,1379.8 1791.4,1667.2Z" fill="#ffff99"/>
<path d="M1791.4,1667.2 Q1594.6,1379.8 1209.5,1396.2 L1209.8,1401.7 Q1594.6,1379.8 1779.4,1673.1Z" fill="#ffff99"/>
<path d="M1779.4,1673.1 Q1594.6,1379.8 1220.6,1461.0 L1222.1,1466.3 Q1594.6,1379.8 1767.2,1678.7Z" fill="#ffff99"/>
<path d="M1767.2,1678.7 Q1594.6,1379.8 1227.5,1482.0 L1229.5,1487.2 Q1594.6,1379.8 1754.8,1683.8Z" fill="#ffff99"/>
<path d="M1754.8,1683.8 Q1594.6,1379.8 1236.0,1502.6 L1238.4,1507.7 Q1594.6,1379.8 1742.2,1688.6Z" fill="#ffff99"/>
<path d="M1742.2,1688.6 Q1594.6,1379.8 1245.1,1521.0 L1248.8,1527.6 Q1594.6,1379.8 1729.4,1692.9Z" fill="#ffff99"/>
<path d="M1729.4,1692.9 Q1594.6,1379.8 1256.5,1540.5 L1260.7,1546.9 Q1594.6,1379.8 1716.4,1696.9Z" fill="#ffff99"/>
<path d="M1716.4,1696.9 Q1594.6,1379.8 1269.4,1559.4 L1274.0,1565.5 Q1594.6,1379.8 1703.2,1700.5Z" fill="#ffff99"/>
<path d="M1703.2,1700.5 Q1594.6,1379.8 1296.5,1591.8 L1304.7,1600.2 Q1594.6,1379.8 1690.0,1703.6Z" fill="#ffff99"/>
<path d="M1690.0,1703.6 Q1594.6,1379.8 1313.2,1608.3 L1321.9,1616.1 Q1594.6,1379.8 1676.6,1706.4Z" fill="#ffff99"/>
<path d="M1676.6,1706.4 Q1594.6,1379.8 1359.9,1644.9 L1380.4,1657.7 Q1594.6,1379.8 1663.1,1708.7Z" fill="#ffff99"/>
<path d="M1663.1,1708.7 Q1594.6,1379.8 1380.4,1657.7 L1401.8,1669.2 Q1594.6,1379.8 1649.5,1710.6Z" fill="#ffff99"/>
<path d="M1649.5,1710.6 Q1594.6,1379.8 1424.1,1679.5 L1447.0,1688.6 Q1594.6,1379.8 1635.8,1712.1Z" fill="#ffff99"/>
<path d="M1635.8,1712.1 Q1594.6,1379.8 1447.0,1688.6 L1470.7,1696.3 Q1594.6,1379.8 1622.1,1713.1Z" fill="#ffff99"/>
<path d="M1622.1,1713.1 Q1594.6,1379.8 1544.3,1711.1 L1569.4,1713.3 Q1594.6,1379.8 1608.4,1713.8Z" fill="#ffff99"/>
<path d="M1608.4,1713.8 Q1594.6,1379.8 1569.4,1713.3 L1594.6,1714.0 Q1594.6,1379.8 1594.6,1714.0Z" fill="#ffff99"/>
</g>
<g stroke="#000" stroke-opacity="0.7" stroke-width="1.15" stroke-linejoin="round">
<path d="M1594.6,1045.6 L1588.3,1045.6 L1582.0,1045.8 L1575.7,1046.0 L1569.4,1046.3 L1568.5,1035.2 L1575.0,1034.9 L1581.6,1034.6 L1588.1,1034.5 L1594.6,1034.5Z" fill="#ff1a10"/>
<path d="M1594.6,1034.5 L1588.1,1034.5 L1581.6,1034.6 L1575.0,1034.9 L1568.5,1035.2 L1567.7,1024.1 L1574.4,1023.7 L1581.1,1023.5 L1587.9,1023.4 L1594.6,1023.3Z" fill="#bebebe"/>
<path d="M1594.6,1023.3 L1587.9,1023.4 L1581.1,1023.5 L1574.4,1023.7 L1567.7,1024.1 L1566.9,1013.0 L1573.8,1012.6 L1580.7,1012.4 L1587.7,1012.2 L1594.6,1012.2Z" fill="#bebebe"/>
<path d="M1569.4,1046.3 L1563.1,1046.7 L1556.8,1047.2 L1550.5,1047.8 L1544.3,1048.5 L1542.6,1037.4 L1549.1,1036.7 L1555.5,1036.1 L1562.0,1035.6 L1568.5,1035.2Z" fill="#ff3a24"/>
<path d="M1568.5,1035.2 L1562.0,1035.6 L1555.5,1036.1 L1549.1,1036.7 L1542.6,1037.4 L1540.9,1026.4 L1547.6,1025.7 L1554.3,1025.0 L1561.0,1024.5 L1567.7,1024.1Z" fill="#bebebe"/>
<path d="M1567.7,1024.1 L1561.0,1024.5 L1554.3,1025.0 L1547.6,1025.7 L1540.9,1026.4 L1539.2,1015.3 L1546.1,1014.6 L1553.0,1014.0 L1559.9,1013.4 L1566.9,1013.0Z" fill="#bebebe"/>
<path d="M1544.3,1048.5 L1538.0,1049.2 L1531.8,1050.1 L1525.6,1051.0 L1519.4,1052.0 L1516.9,1041.1 L1523.3,1040.0 L1529.7,1039.1 L1536.1,1038.2 L1542.6,1037.4Z" fill="#ff3a24"/>
<path d="M1542.6,1037.4 L1536.1,1038.2 L1529.7,1039.1 L1523.3,1040.0 L1516.9,1041.1 L1514.4,1030.2 L1521.0,1029.1 L1527.6,1028.1 L1534.2,1027.2 L1540.9,1026.4Z" fill="#ff5636"/>
<path d="M1540.9,1026.4 L1534.2,1027.2 L1527.6,1028.1 L1521.0,1029.1 L1514.4,1030.2 L1511.9,1019.2 L1518.7,1018.1 L1525.5,1017.1 L1532.4,1016.2 L1539.2,1015.3Z" fill="#bebebe"/>
<path d="M1519.4,1052.0 L1513.2,1053.1 L1507.0,1054.3 L1500.9,1055.6 L1494.8,1057.0 L1491.5,1046.2 L1497.8,1044.8 L1504.1,1043.5 L1510.5,1042.2 L1516.9,1041.1Z" fill="#ff5636"/>
<path d="M1516.9,1041.1 L1510.5,1042.2 L1504.1,1043.5 L1497.8,1044.8 L1491.5,1046.2 L1488.1,1035.5 L1494.7,1034.0 L1501.2,1032.6 L1507.8,1031.4 L1514.4,1030.2Z" fill="#bebebe"/>
<path d="M1514.4,1030.2 L1507.8,1031.4 L1501.2,1032.6 L1494.7,1034.0 L1488.1,1035.5 L1484.8,1024.7 L1491.5,1023.2 L1498.3,1021.8 L1505.1,1020.5 L1511.9,1019.2Z" fill="#bebebe"/>
<path d="M1494.8,1057.0 L1488.7,1058.4 L1482.7,1060.0 L1476.6,1061.6 L1470.7,1063.3 L1466.5,1052.8 L1472.7,1051.0 L1478.9,1049.3 L1485.2,1047.7 L1491.5,1046.2Z" fill="#ff5636"/>
<path d="M1491.5,1046.2 L1485.2,1047.7 L1478.9,1049.3 L1472.7,1051.0 L1466.5,1052.8 L1462.4,1042.2 L1468.8,1040.4 L1475.2,1038.7 L1481.7,1037.0 L1488.1,1035.5Z" fill="#bebebe"/>
<path d="M1488.1,1035.5 L1481.7,1037.0 L1475.2,1038.7 L1468.8,1040.4 L1462.4,1042.2 L1458.3,1031.7 L1464.8,1029.8 L1471.5,1028.0 L1478.1,1026.3 L1484.8,1024.7Z" fill="#bebebe"/>
<path d="M1470.7,1063.3 L1464.7,1065.1 L1458.8,1067.0 L1452.9,1069.0 L1447.0,1071.0 L1442.1,1060.7 L1448.2,1058.6 L1454.2,1056.6 L1460.4,1054.6 L1466.5,1052.8Z" fill="#ff5636"/>
<path d="M1466.5,1052.8 L1460.4,1054.6 L1454.2,1056.6 L1448.2,1058.6 L1442.1,1060.7 L1437.2,1050.5 L1443.4,1048.3 L1449.7,1046.2 L1456.0,1044.2 L1462.4,1042.2Z" fill="#bebebe"/>
<path d="M1462.4,1042.2 L1456.0,1044.2 L1449.7,1046.2 L1443.4,1048.3 L1437.2,1050.5 L1432.3,1040.2 L1438.7,1037.9 L1445.2,1035.7 L1451.7,1033.7 L1458.3,1031.7Z" fill="#bebebe"/>
<path d="M1447.0,1071.0 L1441.2,1073.2 L1435.5,1075.4 L1429.7,1077.7 L1424.1,1080.1 L1418.4,1070.1 L1424.2,1067.6 L1430.2,1065.2 L1436.1,1063.0 L1442.1,1060.7Z" fill="#ff5636"/>
<path d="M1442.1,1060.7 L1436.1,1063.0 L1430.2,1065.2 L1424.2,1067.6 L1418.4,1070.1 L1412.7,1060.1 L1418.7,1057.5 L1424.9,1055.1 L1431.0,1052.7 L1437.2,1050.5Z" fill="#bebebe"/>
<path d="M1437.2,1050.5 L1431.0,1052.7 L1424.9,1055.1 L1418.7,1057.5 L1412.7,1060.1 L1407.0,1050.1 L1413.2,1047.5 L1419.5,1044.9 L1425.9,1042.5 L1432.3,1040.2Z" fill="#bebebe"/>
<path d="M1424.1,1080.1 L1418.4,1082.5 L1412.8,1085.1 L1407.3,1087.7 L1401.8,1090.4 L1395.4,1080.7 L1401.0,1077.9 L1406.8,1075.2 L1412.5,1072.6 L1418.4,1070.1Z" fill="#ff5636"/>
<path d="M1418.4,1070.1 L1412.5,1072.6 L1406.8,1075.2 L1401.0,1077.9 L1395.4,1080.7 L1388.9,1071.1 L1394.8,1068.2 L1400.7,1065.4 L1406.7,1062.7 L1412.7,1060.1Z" fill="#ff5636"/>
<path d="M1412.7,1060.1 L1406.7,1062.7 L1400.7,1065.4 L1394.8,1068.2 L1388.9,1071.1 L1382.5,1061.4 L1388.6,1058.5 L1394.7,1055.6 L1400.8,1052.8 L1407.0,1050.1Z" fill="#bebebe"/>
<path d="M1401.8,1090.4 L1396.4,1093.1 L1391.0,1096.0 L1385.6,1098.9 L1380.4,1101.9 L1373.2,1092.7 L1378.7,1089.6 L1384.2,1086.5 L1389.8,1083.6 L1395.4,1080.7Z" fill="#ff5636"/>
<path d="M1395.4,1080.7 L1389.8,1083.6 L1384.2,1086.5 L1378.7,1089.6 L1373.2,1092.7 L1366.1,1083.4 L1371.7,1080.2 L1377.4,1077.1 L1383.1,1074.0 L1388.9,1071.1Z" fill="#bebebe"/>
<path d="M1388.9,1071.1 L1383.1,1074.0 L1377.4,1077.1 L1371.7,1080.2 L1366.1,1083.4 L1358.9,1074.1 L1364.8,1070.8 L1370.6,1067.6 L1376.5,1064.5 L1382.5,1061.4Z" fill="#bebebe"/>
<path d="M1380.4,1101.9 L1375.2,1105.0 L1370.0,1108.1 L1364.9,1111.4 L1359.9,1114.7 L1352.0,1105.8 L1357.2,1102.4 L1362.5,1099.1 L1367.8,1095.8 L1373.2,1092.7Z" fill="#ff5636"/>
<path d="M1373.2,1092.7 L1367.8,1095.8 L1362.5,1099.1 L1357.2,1102.4 L1352.0,1105.8 L1344.2,1097.0 L1349.6,1093.5 L1355.0,1090.0 L1360.5,1086.7 L1366.1,1083.4Z" fill="#bebebe"/>
<path d="M1366.1,1083.4 L1360.5,1086.7 L1355.0,1090.0 L1349.6,1093.5 L1344.2,1097.0 L1336.4,1088.1 L1341.9,1084.5 L1347.5,1081.0 L1353.2,1077.5 L1358.9,1074.1Z" fill="#bebebe"/>
<path d="M1359.9,1114.7 L1354.9,1118.0 L1350.0,1121.5 L1345.1,1125.0 L1340.4,1128.5 L1331.9,1120.2 L1336.8,1116.5 L1341.8,1112.8 L1346.9,1109.3 L1352.0,1105.8Z" fill="#ff5636"/>
<path d="M1352.0,1105.8 L1346.9,1109.3 L1341.8,1112.8 L1336.8,1116.5 L1331.9,1120.2 L1323.4,1111.8 L1328.5,1108.0 L1333.7,1104.2 L1338.9,1100.6 L1344.2,1097.0Z" fill="#bebebe"/>
<path d="M1344.2,1097.0 L1338.9,1100.6 L1333.7,1104.2 L1328.5,1108.0 L1323.4,1111.8 L1314.9,1103.4 L1320.2,1099.5 L1325.5,1095.6 L1330.9,1091.8 L1336.4,1088.1Z" fill="#bebebe"/>
<path d="M1340.4,1128.5 L1335.6,1132.2 L1331.0,1135.9 L1326.4,1139.7 L1321.9,1143.5 L1312.9,1135.6 L1317.5,1131.6 L1322.2,1127.7 L1327.0,1123.9 L1331.9,1120.2Z" fill="#ff5636"/>
<path d="M1331.9,1120.2 L1327.0,1123.9 L1322.2,1127.7 L1317.5,1131.6 L1312.9,1135.6 L1303.8,1127.7 L1308.6,1123.6 L1313.4,1119.6 L1318.4,1115.7 L1323.4,1111.8Z" fill="#bebebe"/>
<path d="M1323.4,1111.8 L1318.4,1115.7 L1313.4,1119.6 L1308.6,1123.6 L1303.8,1127.7 L1294.7,1119.9 L1299.6,1115.6 L1304.6,1111.5 L1309.8,1107.4 L1314.9,1103.4Z" fill="#bebebe"/>
<path d="M1321.9,1143.5 L1317.5,1147.4 L1313.2,1151.3 L1308.9,1155.4 L1304.7,1159.4 L1295.0,1152.1 L1299.4,1147.9 L1303.8,1143.7 L1308.3,1139.6 L1312.9,1135.6Z" fill="#ff5636"/>
<path d="M1312.9,1135.6 L1308.3,1139.6 L1303.8,1143.7 L1299.4,1147.9 L1295.0,1152.1 L1285.4,1144.8 L1289.8,1140.4 L1294.4,1136.1 L1299.0,1131.9 L1303.8,1127.7Z" fill="#bebebe"/>
<path d="M1303.8,1127.7 L1299.0,1131.9 L1294.4,1136.1 L1289.8,1140.4 L1285.4,1144.8 L1275.7,1137.4 L1280.3,1132.9 L1285.0,1128.5 L1289.8,1124.1 L1294.7,1119.9Z" fill="#bebebe"/>
<path d="M1304.7,1159.4 L1300.6,1163.6 L1296.5,1167.8 L1292.6,1172.0 L1288.7,1176.4 L1278.5,1169.6 L1282.5,1165.1 L1286.6,1160.7 L1290.8,1156.4 L1295.0,1152.1Z" fill="#ff5636"/>
<path d="M1295.0,1152.1 L1290.8,1156.4 L1286.6,1160.7 L1282.5,1165.1 L1278.5,1169.6 L1268.3,1162.8 L1272.4,1158.2 L1276.7,1153.7 L1281.0,1149.2 L1285.4,1144.8Z" fill="#bebebe"/>
<path d="M1285.4,1144.8 L1281.0,1149.2 L1276.7,1153.7 L1272.4,1158.2 L1268.3,1162.8 L1258.1,1156.0 L1262.4,1151.3 L1266.7,1146.6 L1271.2,1142.0 L1275.7,1137.4Z" fill="#bebebe"/>
<path d="M1288.7,1176.4 L1284.9,1180.7 L1281.2,1185.1 L1277.5,1189.6 L1274.0,1194.1 L1263.3,1187.9 L1267.0,1183.3 L1270.7,1178.6 L1274.6,1174.1 L1278.5,1169.6Z" fill="#ff5636"/>
<path d="M1278.5,1169.6 L1274.6,1174.1 L1270.7,1178.6 L1267.0,1183.3 L1263.3,1187.9 L1252.6,1181.8 L1256.4,1176.9 L1260.3,1172.2 L1264.2,1167.4 L1268.3,1162.8Z" fill="#ff5636"/>
<path d="M1268.3,1162.8 L1264.2,1167.4 L1260.3,1172.2 L1256.4,1176.9 L1252.6,1181.8 L1241.9,1175.6 L1245.8,1170.6 L1249.8,1165.7 L1253.9,1160.8 L1258.1,1156.0Z" fill="#bebebe"/>
<path d="M1274.0,1194.1 L1270.5,1198.7 L1267.1,1203.3 L1263.9,1208.0 L1260.7,1212.7 L1249.5,1207.1 L1252.8,1202.3 L1256.2,1197.4 L1259.7,1192.7 L1263.3,1187.9Z" fill="#ff5636"/>
<path d="M1263.3,1187.9 L1259.7,1192.7 L1256.2,1197.4 L1252.8,1202.3 L1249.5,1207.1 L1238.4,1201.6 L1241.8,1196.5 L1245.3,1191.6 L1248.9,1186.6 L1252.6,1181.8Z" fill="#bebebe"/>
<path d="M1252.6,1181.8 L1248.9,1186.6 L1245.3,1191.6 L1241.8,1196.5 L1238.4,1201.6 L1227.3,1196.0 L1230.8,1190.8 L1234.4,1185.7 L1238.1,1180.6 L1241.9,1175.6Z" fill="#bebebe"/>
<path d="M1260.7,1212.7 L1257.6,1217.5 L1254.5,1222.3 L1251.6,1227.1 L1248.8,1232.0 L1237.2,1227.1 L1240.2,1222.0 L1243.2,1217.0 L1246.3,1212.0 L1249.5,1207.1Z" fill="#ff5636"/>
<path d="M1249.5,1207.1 L1246.3,1212.0 L1243.2,1217.0 L1240.2,1222.0 L1237.2,1227.1 L1225.7,1222.1 L1228.7,1216.9 L1231.9,1211.8 L1235.1,1206.6 L1238.4,1201.6Z" fill="#ff3a24"/>
<path d="M1238.4,1201.6 L1235.1,1206.6 L1231.9,1211.8 L1228.7,1216.9 L1225.7,1222.1 L1214.2,1217.2 L1217.3,1211.8 L1220.5,1206.5 L1223.8,1201.2 L1227.3,1196.0Z" fill="#bebebe"/>
<path d="M1248.8,1232.0 L1246.0,1236.9 L1243.4,1241.9 L1240.8,1246.9 L1238.4,1251.9 L1226.5,1247.6 L1229.0,1242.4 L1231.7,1237.3 L1234.4,1232.1 L1237.2,1227.1Z" fill="#ff5636"/>
<path d="M1237.2,1227.1 L1234.4,1232.1 L1231.7,1237.3 L1229.0,1242.4 L1226.5,1247.6 L1214.6,1243.4 L1217.2,1238.0 L1220.0,1232.7 L1222.8,1227.4 L1225.7,1222.1Z" fill="#bebebe"/>
<path d="M1225.7,1222.1 L1222.8,1227.4 L1220.0,1232.7 L1217.2,1238.0 L1214.6,1243.4 L1202.7,1239.1 L1205.4,1233.6 L1208.2,1228.1 L1211.2,1222.6 L1214.2,1217.2Z" fill="#bebebe"/>
<path d="M1238.4,1251.9 L1236.0,1257.0 L1233.7,1262.1 L1231.5,1267.2 L1229.5,1272.4 L1217.3,1268.8 L1219.4,1263.5 L1221.7,1258.2 L1224.0,1252.9 L1226.5,1247.6Z" fill="#ff5636"/>
<path d="M1226.5,1247.6 L1224.0,1252.9 L1221.7,1258.2 L1219.4,1263.5 L1217.3,1268.8 L1205.1,1265.2 L1207.3,1259.7 L1209.7,1254.2 L1212.1,1248.8 L1214.6,1243.4Z" fill="#bebebe"/>
<path d="M1214.6,1243.4 L1212.1,1248.8 L1209.7,1254.2 L1207.3,1259.7 L1205.1,1265.2 L1193.0,1261.6 L1195.2,1256.0 L1197.6,1250.3 L1200.1,1244.7 L1202.7,1239.1Z" fill="#bebebe"/>
<path d="M1229.5,1272.4 L1227.5,1277.6 L1225.6,1282.8 L1223.8,1288.0 L1222.1,1293.3 L1209.7,1290.4 L1211.5,1285.0 L1213.3,1279.6 L1215.2,1274.2 L1217.3,1268.8Z" fill="#ff5636"/>
<path d="M1217.3,1268.8 L1215.2,1274.2 L1213.3,1279.6 L1211.5,1285.0 L1209.7,1290.4 L1197.3,1287.5 L1199.1,1281.9 L1201.0,1276.3 L1203.0,1270.8 L1205.1,1265.2Z" fill="#bebebe"/>
<path d="M1205.1,1265.2 L1203.0,1270.8 L1201.0,1276.3 L1199.1,1281.9 L1197.3,1287.5 L1184.9,1284.7 L1186.7,1278.9 L1188.7,1273.1 L1190.8,1267.3 L1193.0,1261.6Z" fill="#bebebe"/>
<path d="M1222.1,1293.3 L1220.6,1298.6 L1219.1,1303.9 L1217.7,1309.2 L1216.4,1314.6 L1203.8,1312.4 L1205.1,1306.9 L1206.6,1301.4 L1208.1,1295.9 L1209.7,1290.4Z" fill="#ff5636"/>
<path d="M1209.7,1290.4 L1208.1,1295.9 L1206.6,1301.4 L1205.1,1306.9 L1203.8,1312.4 L1191.2,1310.3 L1192.6,1304.5 L1194.0,1298.9 L1195.6,1293.2 L1197.3,1287.5Z" fill="#bebebe"/>
<path d="M1197.3,1287.5 L1195.6,1293.2 L1194.0,1298.9 L1192.6,1304.5 L1191.2,1310.3 L1178.6,1308.1 L1180.0,1302.2 L1181.5,1296.3 L1183.2,1290.5 L1184.9,1284.7Z" fill="#bebebe"/>
<path d="M1216.4,1314.6 L1215.2,1320.0 L1214.2,1325.4 L1213.2,1330.8 L1212.3,1336.2 L1199.6,1334.7 L1200.5,1329.1 L1201.5,1323.5 L1202.6,1318.0 L1203.8,1312.4Z" fill="#ff5636"/>
<path d="M1203.8,1312.4 L1202.6,1318.0 L1201.5,1323.5 L1200.5,1329.1 L1199.6,1334.7 L1186.8,1333.3 L1187.7,1327.5 L1188.8,1321.7 L1189.9,1316.0 L1191.2,1310.3Z" fill="#bebebe"/>
<path d="M1191.2,1310.3 L1189.9,1316.0 L1188.8,1321.7 L1187.7,1327.5 L1186.8,1333.3 L1174.1,1331.8 L1175.0,1325.9 L1176.1,1319.9 L1177.3,1314.0 L1178.6,1308.1Z" fill="#bebebe"/>
<path d="M1212.3,1336.2 L1211.5,1341.6 L1210.9,1347.0 L1210.3,1352.5 L1209.8,1357.9 L1197.0,1357.2 L1197.5,1351.6 L1198.1,1346.0 L1198.8,1340.3 L1199.6,1334.7Z" fill="#ff5636"/>
<path d="M1199.6,1334.7 L1198.8,1340.3 L1198.1,1346.0 L1197.5,1351.6 L1197.0,1357.2 L1184.2,1356.5 L1184.7,1350.7 L1185.3,1344.9 L1186.0,1339.1 L1186.8,1333.3Z" fill="#ff5636"/>
<path d="M1186.8,1333.3 L1186.0,1339.1 L1185.3,1344.9 L1184.7,1350.7 L1184.2,1356.5 L1171.3,1355.8 L1171.9,1349.8 L1172.5,1343.8 L1173.2,1337.8 L1174.1,1331.8Z" fill="#bebebe"/>
<path d="M1209.8,1357.9 L1209.5,1363.4 L1209.2,1368.9 L1209.1,1374.3 L1209.0,1379.8 L1196.1,1379.8 L1196.2,1374.1 L1196.4,1368.5 L1196.6,1362.9 L1197.0,1357.2Z" fill="#ff5636"/>
<path d="M1197.0,1357.2 L1196.6,1362.9 L1196.4,1368.5 L1196.2,1374.1 L1196.1,1379.8 L1183.3,1379.8 L1183.3,1374.0 L1183.5,1368.1 L1183.8,1362.3 L1184.2,1356.5Z" fill="#bebebe"/>
<path d="M1184.2,1356.5 L1183.8,1362.3 L1183.5,1368.1 L1183.3,1374.0 L1183.3,1379.8 L1170.4,1379.8 L1170.5,1373.8 L1170.7,1367.8 L1171.0,1361.8 L1171.3,1355.8Z" fill="#bebebe"/>
<path d="M1209.0,1379.8 L1209.1,1385.3 L1209.2,1390.7 L1209.5,1396.2 L1209.8,1401.7 L1197.0,1402.4 L1196.6,1396.7 L1196.4,1391.1 L1196.2,1385.5 L1196.1,1379.8Z" fill="#bebebe"/>
<path d="M1196.1,1379.8 L1196.2,1385.5 L1196.4,1391.1 L1196.6,1396.7 L1197.0,1402.4 L1184.2,1403.1 L1183.8,1397.3 L1183.5,1391.5 L1183.3,1385.6 L1183.3,1379.8Z" fill="#ff5636"/>
<path d="M1183.3,1379.8 L1183.3,1385.6 L1183.5,1391.5 L1183.8,1397.3 L1184.2,1403.1 L1171.3,1403.8 L1171.0,1397.8 L1170.7,1391.8 L1170.5,1385.8 L1170.4,1379.8Z" fill="#bebebe"/>
<path d="M1209.8,1401.7 L1210.3,1407.1 L1210.9,1412.6 L1211.5,1418.0 L1212.3,1423.4 L1199.6,1424.9 L1198.8,1419.3 L1198.1,1413.6 L1197.5,1408.0 L1197.0,1402.4Z" fill="#bebebe"/>
<path d="M1197.0,1402.4 L1197.5,1408.0 L1198.1,1413.6 L1198.8,1419.3 L1199.6,1424.9 L1186.8,1426.3 L1186.0,1420.5 L1185.3,1414.7 L1184.7,1408.9 L1184.2,1403.1Z" fill="#ff3a24"/>
<path d="M1184.2,1403.1 L1184.7,1408.9 L1185.3,1414.7 L1186.0,1420.5 L1186.8,1426.3 L1174.1,1427.8 L1173.2,1421.8 L1172.5,1415.8 L1171.9,1409.8 L1171.3,1403.8Z" fill="#bebebe"/>
<path d="M1212.3,1423.4 L1213.2,1428.8 L1214.2,1434.2 L1215.2,1439.6 L1216.4,1445.0 L1203.8,1447.2 L1202.6,1441.6 L1201.5,1436.1 L1200.5,1430.5 L1199.6,1424.9Z" fill="#bebebe"/>
<path d="M1199.6,1424.9 L1200.5,1430.5 L1201.5,1436.1 L1202.6,1441.6 L1203.8,1447.2 L1191.2,1449.3 L1189.9,1443.6 L1188.8,1437.9 L1187.7,1432.1 L1186.8,1426.3Z" fill="#ff5636"/>
<path d="M1186.8,1426.3 L1187.7,1432.1 L1188.8,1437.9 L1189.9,1443.6 L1191.2,1449.3 L1178.6,1451.5 L1177.3,1445.6 L1176.1,1439.7 L1175.0,1433.7 L1174.1,1427.8Z" fill="#bebebe"/>
<path d="M1216.4,1445.0 L1217.7,1450.4 L1219.1,1455.7 L1220.6,1461.0 L1222.1,1466.3 L1209.7,1469.2 L1208.1,1463.7 L1206.6,1458.2 L1205.1,1452.7 L1203.8,1447.2Z" fill="#bebebe"/>
<path d="M1203.8,1447.2 L1205.1,1452.7 L1206.6,1458.2 L1208.1,1463.7 L1209.7,1469.2 L1197.3,1472.1 L1195.6,1466.4 L1194.0,1460.7 L1192.6,1455.1 L1191.2,1449.3Z" fill="#ff3a24"/>
<path d="M1191.2,1449.3 L1192.6,1455.1 L1194.0,1460.7 L1195.6,1466.4 L1197.3,1472.1 L1184.9,1474.9 L1183.2,1469.1 L1181.5,1463.3 L1180.0,1457.4 L1178.6,1451.5Z" fill="#bebebe"/>
<path d="M1222.1,1466.3 L1223.8,1471.6 L1225.6,1476.8 L1227.5,1482.0 L1229.5,1487.2 L1217.3,1490.8 L1215.2,1485.4 L1213.3,1480.0 L1211.5,1474.6 L1209.7,1469.2Z" fill="#bebebe"/>
<path d="M1209.7,1469.2 L1211.5,1474.6 L1213.3,1480.0 L1215.2,1485.4 L1217.3,1490.8 L1205.1,1494.4 L1203.0,1488.8 L1201.0,1483.3 L1199.1,1477.7 L1197.3,1472.1Z" fill="#ff5636"/>
<path d="M1197.3,1472.1 L1199.1,1477.7 L1201.0,1483.3 L1203.0,1488.8 L1205.1,1494.4 L1193.0,1498.0 L1190.8,1492.3 L1188.7,1486.5 L1186.7,1480.7 L1184.9,1474.9Z" fill="#bebebe"/>
<path d="M1229.5,1487.2 L1231.5,1492.4 L1233.7,1497.5 L1236.0,1502.6 L1238.4,1507.7 L1226.5,1512.0 L1224.0,1506.7 L1221.7,1501.4 L1219.4,1496.1 L1217.3,1490.8Z" fill="#bebebe"/>
<path d="M1217.3,1490.8 L1219.4,1496.1 L1221.7,1501.4 L1224.0,1506.7 L1226.5,1512.0 L1214.6,1516.2 L1212.1,1510.8 L1209.7,1505.4 L1207.3,1499.9 L1205.1,1494.4Z" fill="#ff5636"/>
<path d="M1205.1,1494.4 L1207.3,1499.9 L1209.7,1505.4 L1212.1,1510.8 L1214.6,1516.2 L1202.7,1520.5 L1200.1,1514.9 L1197.6,1509.3 L1195.2,1503.6 L1193.0,1498.0Z" fill="#bebebe"/>
<path d="M1238.4,1507.7 L1240.8,1512.7 L1243.4,1517.7 L1246.0,1522.7 L1248.8,1527.6 L1237.2,1532.5 L1234.4,1527.5 L1231.7,1522.3 L1229.0,1517.2 L1226.5,1512.0Z" fill="#bebebe"/>
<path d="M1226.5,1512.0 L1229.0,1517.2 L1231.7,1522.3 L1234.4,1527.5 L1237.2,1532.5 L1225.7,1537.5 L1222.8,1532.2 L1220.0,1526.9 L1217.2,1521.6 L1214.6,1516.2Z" fill="#ff5636"/>
<path d="M1214.6,1516.2 L1217.2,1521.6 L1220.0,1526.9 L1222.8,1532.2 L1225.7,1537.5 L1214.2,1542.4 L1211.2,1537.0 L1208.2,1531.5 L1205.4,1526.0 L1202.7,1520.5Z" fill="#bebebe"/>
<path d="M1248.8,1527.6 L1251.6,1532.5 L1254.5,1537.3 L1257.6,1542.1 L1260.7,1546.9 L1249.5,1552.5 L1246.3,1547.6 L1243.2,1542.6 L1240.2,1537.6 L1237.2,1532.5Z" fill="#bebebe"/>
<path d="M1237.2,1532.5 L1240.2,1537.6 L1243.2,1542.6 L1246.3,1547.6 L1249.5,1552.5 L1238.4,1558.0 L1235.1,1553.0 L1231.9,1547.8 L1228.7,1542.7 L1225.7,1537.5Z" fill="#ff5636"/>
<path d="M1225.7,1537.5 L1228.7,1542.7 L1231.9,1547.8 L1235.1,1553.0 L1238.4,1558.0 L1227.3,1563.6 L1223.8,1558.4 L1220.5,1553.1 L1217.3,1547.8 L1214.2,1542.4Z" fill="#bebebe"/>
<path d="M1260.7,1546.9 L1263.9,1551.6 L1267.1,1556.3 L1270.5,1560.9 L1274.0,1565.5 L1263.3,1571.7 L1259.7,1566.9 L1256.2,1562.2 L1252.8,1557.3 L1249.5,1552.5Z" fill="#bebebe"/>
<path d="M1249.5,1552.5 L1252.8,1557.3 L1256.2,1562.2 L1259.7,1566.9 L1263.3,1571.7 L1252.6,1577.8 L1248.9,1573.0 L1245.3,1568.0 L1241.8,1563.1 L1238.4,1558.0Z" fill="#ff5636"/>
<path d="M1238.4,1558.0 L1241.8,1563.1 L1245.3,1568.0 L1248.9,1573.0 L1252.6,1577.8 L1241.9,1584.0 L1238.1,1579.0 L1234.4,1573.9 L1230.8,1568.8 L1227.3,1563.6Z" fill="#bebebe"/>
<path d="M1274.0,1565.5 L1277.5,1570.0 L1281.2,1574.5 L1284.9,1578.9 L1288.7,1583.2 L1278.5,1590.0 L1274.6,1585.5 L1270.7,1581.0 L1267.0,1576.3 L1263.3,1571.7Z" fill="#bebebe"/>
<path d="M1263.3,1571.7 L1267.0,1576.3 L1270.7,1581.0 L1274.6,1585.5 L1278.5,1590.0 L1268.3,1596.8 L1264.2,1592.2 L1260.3,1587.4 L1256.4,1582.7 L1252.6,1577.8Z" fill="#ff5636"/>
<path d="M1252.6,1577.8 L1256.4,1582.7 L1260.3,1587.4 L1264.2,1592.2 L1268.3,1596.8 L1258.1,1603.6 L1253.9,1598.8 L1249.8,1593.9 L1245.8,1589.0 L1241.9,1584.0Z" fill="#bebebe"/>
<path d="M1288.7,1583.2 L1292.6,1587.6 L1296.5,1591.8 L1300.6,1596.0 L1304.7,1600.2 L1295.0,1607.5 L1290.8,1603.2 L1286.6,1598.9 L1282.5,1594.5 L1278.5,1590.0Z" fill="#bebebe"/>
<path d="M1278.5,1590.0 L1282.5,1594.5 L1286.6,1598.9 L1290.8,1603.2 L1295.0,1607.5 L1285.4,1614.8 L1281.0,1610.4 L1276.7,1605.9 L1272.4,1601.4 L1268.3,1596.8Z" fill="#ff1a10"/>
<path d="M1268.3,1596.8 L1272.4,1601.4 L1276.7,1605.9 L1281.0,1610.4 L1285.4,1614.8 L1275.7,1622.2 L1271.2,1617.6 L1266.7,1613.0 L1262.4,1608.3 L1258.1,1603.6Z" fill="#bebebe"/>
<path d="M1304.7,1600.2 L1308.9,1604.2 L1313.2,1608.3 L1317.5,1612.2 L1321.9,1616.1 L1312.9,1624.0 L1308.3,1620.0 L1303.8,1615.9 L1299.4,1611.7 L1295.0,1607.5Z" fill="#bebebe"/>
<path d="M1295.0,1607.5 L1299.4,1611.7 L1303.8,1615.9 L1308.3,1620.0 L1312.9,1624.0 L1303.8,1631.9 L1299.0,1627.7 L1294.4,1623.5 L1289.8,1619.2 L1285.4,1614.8Z" fill="#ff5636"/>
<path d="M1285.4,1614.8 L1289.8,1619.2 L1294.4,1623.5 L1299.0,1627.7 L1303.8,1631.9 L1294.7,1639.7 L1289.8,1635.5 L1285.0,1631.1 L1280.3,1626.7 L1275.7,1622.2Z" fill="#bebebe"/>
<path d="M1321.9,1616.1 L1326.4,1619.9 L1331.0,1623.7 L1335.6,1627.4 L1340.4,1631.1 L1331.9,1639.4 L1327.0,1635.7 L1322.2,1631.9 L1317.5,1628.0 L1312.9,1624.0Z" fill="#bebebe"/>
<path d="M1312.9,1624.0 L1317.5,1628.0 L1322.2,1631.9 L1327.0,1635.7 L1331.9,1639.4 L1323.4,1647.8 L1318.4,1643.9 L1313.4,1640.0 L1308.6,1636.0 L1303.8,1631.9Z" fill="#ff5636"/>
<path d="M1303.8,1631.9 L1308.6,1636.0 L1313.4,1640.0 L1318.4,1643.9 L1323.4,1647.8 L1314.9,1656.2 L1309.8,1652.2 L1304.6,1648.1 L1299.6,1644.0 L1294.7,1639.7Z" fill="#bebebe"/>
<path d="M1340.4,1631.1 L1345.1,1634.6 L1350.0,1638.1 L1354.9,1641.6 L1359.9,1644.9 L1352.0,1653.8 L1346.9,1650.3 L1341.8,1646.8 L1336.8,1643.1 L1331.9,1639.4Z" fill="#bebebe"/>
<path d="M1331.9,1639.4 L1336.8,1643.1 L1341.8,1646.8 L1346.9,1650.3 L1352.0,1653.8 L1344.2,1662.6 L1338.9,1659.0 L1333.7,1655.4 L1328.5,1651.6 L1323.4,1647.8Z" fill="#ff5636"/>
<path d="M1323.4,1647.8 L1328.5,1651.6 L1333.7,1655.4 L1338.9,1659.0 L1344.2,1662.6 L1336.4,1671.5 L1330.9,1667.8 L1325.5,1664.0 L1320.2,1660.1 L1314.9,1656.2Z" fill="#bebebe"/>
<path d="M1359.9,1644.9 L1364.9,1648.2 L1370.0,1651.5 L1375.2,1654.6 L1380.4,1657.7 L1373.2,1666.9 L1367.8,1663.8 L1362.5,1660.5 L1357.2,1657.2 L1352.0,1653.8Z" fill="#ff5636"/>
<path d="M1352.0,1653.8 L1357.2,1657.2 L1362.5,1660.5 L1367.8,1663.8 L1373.2,1666.9 L1366.1,1676.2 L1360.5,1672.9 L1355.0,1669.6 L1349.6,1666.1 L1344.2,1662.6Z" fill="#bebebe"/>
<path d="M1344.2,1662.6 L1349.6,1666.1 L1355.0,1669.6 L1360.5,1672.9 L1366.1,1676.2 L1358.9,1685.5 L1353.2,1682.1 L1347.5,1678.6 L1341.9,1675.1 L1336.4,1671.5Z" fill="#bebebe"/>
<path d="M1380.4,1657.7 L1385.6,1660.7 L1391.0,1663.6 L1396.4,1666.5 L1401.8,1669.2 L1395.4,1678.9 L1389.8,1676.0 L1384.2,1673.1 L1378.7,1670.0 L1373.2,1666.9Z" fill="#ff5636"/>
<path d="M1373.2,1666.9 L1378.7,1670.0 L1384.2,1673.1 L1389.8,1676.0 L1395.4,1678.9 L1388.9,1688.5 L1383.1,1685.6 L1377.4,1682.5 L1371.7,1679.4 L1366.1,1676.2Z" fill="#ff5636"/>
<path d="M1366.1,1676.2 L1371.7,1679.4 L1377.4,1682.5 L1383.1,1685.6 L1388.9,1688.5 L1382.5,1698.2 L1376.5,1695.1 L1370.6,1692.0 L1364.8,1688.8 L1358.9,1685.5Z" fill="#bebebe"/>
<path d="M1401.8,1669.2 L1407.3,1671.9 L1412.8,1674.5 L1418.4,1677.1 L1424.1,1679.5 L1418.4,1689.5 L1412.5,1687.0 L1406.8,1684.4 L1401.0,1681.7 L1395.4,1678.9Z" fill="#ff5636"/>
<path d="M1395.4,1678.9 L1401.0,1681.7 L1406.8,1684.4 L1412.5,1687.0 L1418.4,1689.5 L1412.7,1699.5 L1406.7,1696.9 L1400.7,1694.2 L1394.8,1691.4 L1388.9,1688.5Z" fill="#ff5636"/>
<path d="M1388.9,1688.5 L1394.8,1691.4 L1400.7,1694.2 L1406.7,1696.9 L1412.7,1699.5 L1407.0,1709.5 L1400.8,1706.8 L1394.7,1704.0 L1388.6,1701.1 L1382.5,1698.2Z" fill="#bebebe"/>
<path d="M1424.1,1679.5 L1429.7,1681.9 L1435.5,1684.2 L1441.2,1686.4 L1447.0,1688.6 L1442.1,1698.9 L1436.1,1696.6 L1430.2,1694.4 L1424.2,1692.0 L1418.4,1689.5Z" fill="#ff5636"/>
<path d="M1418.4,1689.5 L1424.2,1692.0 L1430.2,1694.4 L1436.1,1696.6 L1442.1,1698.9 L1437.2,1709.1 L1431.0,1706.9 L1424.9,1704.5 L1418.7,1702.1 L1412.7,1699.5Z" fill="#ff5636"/>
<path d="M1412.7,1699.5 L1418.7,1702.1 L1424.9,1704.5 L1431.0,1706.9 L1437.2,1709.1 L1432.3,1719.4 L1425.9,1717.1 L1419.5,1714.7 L1413.2,1712.1 L1407.0,1709.5Z" fill="#bebebe"/>
<path d="M1447.0,1688.6 L1452.9,1690.6 L1458.8,1692.6 L1464.7,1694.5 L1470.7,1696.3 L1466.5,1706.8 L1460.4,1705.0 L1454.2,1703.0 L1448.2,1701.0 L1442.1,1698.9Z" fill="#ff5636"/>
<path d="M1442.1,1698.9 L1448.2,1701.0 L1454.2,1703.0 L1460.4,1705.0 L1466.5,1706.8 L1462.4,1717.4 L1456.0,1715.4 L1449.7,1713.4 L1443.4,1711.3 L1437.2,1709.1Z" fill="#bebebe"/>
<path d="M1437.2,1709.1 L1443.4,1711.3 L1449.7,1713.4 L1456.0,1715.4 L1462.4,1717.4 L1458.3,1727.9 L1451.7,1725.9 L1445.2,1723.9 L1438.7,1721.7 L1432.3,1719.4Z" fill="#bebebe"/>
<path d="M1470.7,1696.3 L1476.6,1698.0 L1482.7,1699.6 L1488.7,1701.2 L1494.8,1702.6 L1491.5,1713.4 L1485.2,1711.9 L1478.9,1710.3 L1472.7,1708.6 L1466.5,1706.8Z" fill="#bebebe"/>
<path d="M1466.5,1706.8 L1472.7,1708.6 L1478.9,1710.3 L1485.2,1711.9 L1491.5,1713.4 L1488.1,1724.1 L1481.7,1722.6 L1475.2,1720.9 L1468.8,1719.2 L1462.4,1717.4Z" fill="#ff5636"/>
<path d="M1462.4,1717.4 L1468.8,1719.2 L1475.2,1720.9 L1481.7,1722.6 L1488.1,1724.1 L1484.8,1734.9 L1478.1,1733.3 L1471.5,1731.6 L1464.8,1729.8 L1458.3,1727.9Z" fill="#bebebe"/>
<path d="M1494.8,1702.6 L1500.9,1704.0 L1507.0,1705.3 L1513.2,1706.5 L1519.4,1707.6 L1516.9,1718.5 L1510.5,1717.4 L1504.1,1716.1 L1497.8,1714.8 L1491.5,1713.4Z" fill="#bebebe"/>
<path d="M1491.5,1713.4 L1497.8,1714.8 L1504.1,1716.1 L1510.5,1717.4 L1516.9,1718.5 L1514.4,1729.4 L1507.8,1728.2 L1501.2,1727.0 L1494.7,1725.6 L1488.1,1724.1Z" fill="#ff5636"/>
<path d="M1488.1,1724.1 L1494.7,1725.6 L1501.2,1727.0 L1507.8,1728.2 L1514.4,1729.4 L1511.9,1740.4 L1505.1,1739.1 L1498.3,1737.8 L1491.5,1736.4 L1484.8,1734.9Z" fill="#bebebe"/>
<path d="M1519.4,1707.6 L1525.6,1708.6 L1531.8,1709.5 L1538.0,1710.4 L1544.3,1711.1 L1542.6,1722.2 L1536.1,1721.4 L1529.7,1720.5 L1523.3,1719.6 L1516.9,1718.5Z" fill="#bebebe"/>
<path d="M1516.9,1718.5 L1523.3,1719.6 L1529.7,1720.5 L1536.1,1721.4 L1542.6,1722.2 L1540.9,1733.2 L1534.2,1732.4 L1527.6,1731.5 L1521.0,1730.5 L1514.4,1729.4Z" fill="#ff5636"/>
<path d="M1514.4,1729.4 L1521.0,1730.5 L1527.6,1731.5 L1534.2,1732.4 L1540.9,1733.2 L1539.2,1744.3 L1532.4,1743.4 L1525.5,1742.5 L1518.7,1741.5 L1511.9,1740.4Z" fill="#bebebe"/>
<path d="M1544.3,1711.1 L1550.5,1711.8 L1556.8,1712.4 L1563.1,1712.9 L1569.4,1713.3 L1568.5,1724.4 L1562.0,1724.0 L1555.5,1723.5 L1549.1,1722.9 L1542.6,1722.2Z" fill="#bebebe"/>
<path d="M1542.6,1722.2 L1549.1,1722.9 L1555.5,1723.5 L1562.0,1724.0 L1568.5,1724.4 L1567.7,1735.5 L1561.0,1735.1 L1554.3,1734.6 L1547.6,1733.9 L1540.9,1733.2Z" fill="#ff5636"/>
<path d="M1540.9,1733.2 L1547.6,1733.9 L1554.3,1734.6 L1561.0,1735.1 L1567.7,1735.5 L1566.9,1746.6 L1559.9,1746.2 L1553.0,1745.6 L1546.1,1745.0 L1539.2,1744.3Z" fill="#bebebe"/>
<path d="M1569.4,1713.3 L1575.7,1713.6 L1582.0,1713.8 L1588.3,1714.0 L1594.6,1714.0 L1594.6,1725.1 L1588.1,1725.1 L1581.6,1725.0 L1575.0,1724.7 L1568.5,1724.4Z" fill="#bebebe"/>
<path d="M1568.5,1724.4 L1575.0,1724.7 L1581.6,1725.0 L1588.1,1725.1 L1594.6,1725.1 L1594.6,1736.3 L1587.9,1736.2 L1581.1,1736.1 L1574.4,1735.9 L1567.7,1735.5Z" fill="#ff5636"/>
<path d="M1567.7,1735.5 L1574.4,1735.9 L1581.1,1736.1 L1587.9,1736.2 L1594.6,1736.3 L1594.6,1747.4 L1587.7,1747.4 L1580.7,1747.2 L1573.8,1747.0 L1566.9,1746.6Z" fill="#bebebe"/>
</g>
<defs><linearGradient id="shL2" gradientUnits="userSpaceOnUse" x1="495.1" y1="0" x2="672.9" y2="0"><stop offset="0" stop-color="#000" stop-opacity="0"/><stop offset="0.55" stop-color="#000" stop-opacity="0.035"/><stop offset="1" stop-color="#000" stop-opacity="0.04"/></linearGradient></defs>
<path d="M495.1,1019.3 L589.8,926.0 L672.9,926.0 L672.9,1013.4 L548.3,1049.8Z" fill="url(#shL2)"/>
<defs><linearGradient id="shR2" gradientUnits="userSpaceOnUse" x1="1566.9" y1="0" x2="1745.6" y2="0"><stop offset="0" stop-color="#000" stop-opacity="0"/><stop offset="0.55" stop-color="#000" stop-opacity="0.035"/><stop offset="1" stop-color="#000" stop-opacity="0.04"/></linearGradient></defs>
<path d="M1566.9,1013.0 L1662.8,921.5 L1745.6,921.5 L1745.6,1009.4 L1594.6,1045.6Z" fill="url(#shR2)"/>
<path d="M589.8,926.0 Q631.3,921.2 672.9,926.0 L672.9,955.1 Q631.3,950.3 589.8,955.1Z" fill="#bebebe" stroke="#4a4a4a" stroke-width="1.8"/>
<path d="M589.8,955.1 Q631.3,950.3 672.9,955.1 L672.9,984.3 Q631.3,979.5 589.8,984.3Z" fill="#bebebe" stroke="#4a4a4a" stroke-width="1.8"/>
<path d="M589.8,984.3 Q631.3,979.5 672.9,984.3 L672.9,1013.4 Q631.3,1008.6 589.8,1013.4Z" fill="#8ee07e" stroke="#4a4a4a" stroke-width="1.8"/>
<text x="692.0" y="948.3" font-size="24.6" text-anchor="start" fill="#1a1a1a" >PM</text>
<text x="692.0" y="977.8" font-size="24.6" text-anchor="start" fill="#1a1a1a" >WM266-4</text>
<text x="692.0" y="1009.0" font-size="24.6" text-anchor="start" fill="#1a1a1a" >HAC15</text>
<path d="M1662.8,921.5 Q1704.2,916.7 1745.6,921.5 L1745.6,950.8 Q1704.2,946.0 1662.8,950.8Z" fill="#bebebe" stroke="#4a4a4a" stroke-width="1.8"/>
<path d="M1662.8,950.8 Q1704.2,946.0 1745.6,950.8 L1745.6,980.1 Q1704.2,975.3 1662.8,980.1Z" fill="#bebebe" stroke="#4a4a4a" stroke-width="1.8"/>
<path d="M1662.8,980.1 Q1704.2,975.3 1745.6,980.1 L1745.6,1009.4 Q1704.2,1004.6 1662.8,1009.4Z" fill="#ff2d16" stroke="#4a4a4a" stroke-width="1.8"/>
<text x="1761.0" y="944.9" font-size="29" text-anchor="start" fill="#1a1a1a" textLength="41.5" lengthAdjust="spacingAndGlyphs" >PM</text>
<text x="1761.0" y="976.8" font-size="29" text-anchor="start" fill="#1a1a1a" textLength="126.0" lengthAdjust="spacingAndGlyphs" >WM266-4</text>
<text x="1761.0" y="1008.8" font-size="29" text-anchor="start" fill="#1a1a1a" textLength="88.5" lengthAdjust="spacingAndGlyphs" >HAC15</text>
<g font-size="27.7" fill="#111" text-anchor="end">
<text id="lab-DGAT2" font-size="27.15" transform="translate(516.7,992.3) rotate(90.00)" y="9.3">DGAT2</text>
<text id="lab-SIRT1" font-size="25.93" transform="translate(461.7,1004.1) rotate(82.50)" y="8.9">SIRT1</text>
<text id="lab-GOT1" font-size="25.90" transform="translate(406.1,1015.2) rotate(75.00)" y="8.9">GOT1</text>
<text id="lab-XBP1" font-size="25.73" transform="translate(353.9,1030.8) rotate(67.50)" y="8.9">XBP1</text>
<text id="lab-NR1H4" font-size="26.56" transform="translate(308.5,1060.3) rotate(60.00)" y="9.1">NR1H4</text>
<text id="lab-LDLR" font-size="26.70" transform="translate(259.3,1086.5) rotate(52.50)" y="9.2">LDLR</text>
<text id="lab-VLDLR" font-size="26.51" transform="translate(222.9,1122.8) rotate(45.00)" y="9.1">VLDLR</text>
<text id="lab-SREBF1" font-size="26.37" transform="translate(187.1,1154.9) rotate(37.50)" y="9.1">SREBF1</text>
<text id="lab-STAR" font-size="27.04" transform="translate(157.0,1202.7) rotate(30.00)" y="9.3">STAR</text>
<text id="lab-CYP11A1" font-size="27.01" transform="translate(133.0,1246.0) rotate(22.50)" y="9.3">CYP11A1</text>
<text id="lab-INSIG1" font-size="26.76" transform="translate(120.1,1292.4) rotate(15.00)" y="9.2">INSIG1</text>
<text id="lab-FDX1" font-size="26.59" transform="translate(106.5,1336.5) rotate(7.50)" y="9.1">FDX1</text>
<text id="lab-FDXR" font-size="26.84" transform="translate(98.5,1387.5) rotate(0.00)" y="9.2">FDXR</text>
<text id="lab-EBP" font-size="26.76" transform="translate(104.8,1433.7) rotate(352.50)" y="9.2">EBP</text>
<text id="lab-CEBPB" font-size="26.84" transform="translate(112.7,1482.7) rotate(345.00)" y="9.2">CEBPB</text>
<text id="lab-HYOU1" font-size="26.01" transform="translate(131.7,1527.4) rotate(337.50)" y="8.9">HYOU1</text>
<text id="lab-PMAIP1" font-size="26.23" transform="translate(158.6,1572.3) rotate(330.00)" y="9.0">PMAIP1</text>
<text id="lab-BBC3" font-size="26.20" transform="translate(182.7,1611.7) rotate(322.50)" y="9.0">BBC3</text>
<text id="lab-HERPUD1" font-size="26.56" transform="translate(216.5,1649.7) rotate(315.00)" y="9.1">HERPUD1</text>
<text id="lab-ERN1" font-size="27.01" transform="translate(263.4,1684.6) rotate(307.50)" y="9.3">ERN1</text>
<text id="lab-PPP1R15A" font-size="26.84" transform="translate(309.0,1706.1) rotate(300.00)" y="9.2">PPP1R15A</text>
<text id="lab-NIBAN1" font-size="27.15" transform="translate(359.7,1735.3) rotate(292.50)" y="9.3">NIBAN1</text>
<text id="lab-CHAC1" font-size="26.84" transform="translate(409.8,1750.5) rotate(285.00)" y="9.2">CHAC1</text>
<text id="lab-TRIB3" font-size="26.56" transform="translate(462.8,1763.4) rotate(277.50)" y="9.1">TRIB3</text>
<text id="lab-DDIT3" font-size="26.87" transform="translate(518.4,1767.6) rotate(270.00)" y="9.2">DDIT3</text>
</g>
<g font-size="27.7" fill="#111" text-anchor="end">
<text id="lab-CDCA3" font-size="26.54" transform="translate(1578.1,994.6) rotate(90.00)" y="9.1">CDCA3</text>
<text id="lab-CCNF" font-size="26.90" transform="translate(1548.1,996.6) rotate(86.17)" y="9.3">CCNF</text>
<text id="lab-FAM83D" font-size="26.76" transform="translate(1521.9,1002.8) rotate(82.34)" y="9.2">FAM83D</text>
<text id="lab-NEK2" font-size="26.07" transform="translate(1491.7,1002.2) rotate(78.51)" y="9.0">NEK2</text>
<text id="lab-PIMREG" font-size="26.59" transform="translate(1463.2,1014.9) rotate(74.68)" y="9.1">PIMREG</text>
<text id="lab-PSRC1" font-size="25.90" transform="translate(1436.4,1023.8) rotate(70.85)" y="8.9">PSRC1</text>
<text id="lab-CCND2" font-size="26.34" transform="translate(1410.6,1032.7) rotate(67.02)" y="9.1">CCND2</text>
<text id="lab-SPC25" font-size="26.34" transform="translate(1383.1,1045.7) rotate(63.19)" y="9.1">SPC25</text>
<text id="lab-CCNB3" font-size="26.15" transform="translate(1359.6,1061.0) rotate(59.36)" y="9.0">CCNB3</text>
<text id="lab-KIF18B" font-size="26.09" transform="translate(1335.7,1075.1) rotate(55.53)" y="9.0">KIF18B</text>
<text id="lab-PTTG1" font-size="25.76" transform="translate(1313.4,1086.7) rotate(51.70)" y="8.9">PTTG1</text>
<text id="lab-TACC3" font-size="27.06" transform="translate(1289.5,1101.8) rotate(47.87)" y="9.3">TACC3</text>
<text id="lab-CENPW" font-size="26.51" transform="translate(1266.0,1120.7) rotate(44.04)" y="9.1">CENPW</text>
<text id="lab-BIRC5" font-size="25.95" transform="translate(1246.8,1141.4) rotate(40.21)" y="8.9">BIRC5</text>
<text id="lab-KIF14" font-size="26.20" transform="translate(1230.8,1158.3) rotate(36.38)" y="9.0">KIF14</text>
<text id="lab-SPC24" font-size="25.90" transform="translate(1215.8,1180.3) rotate(32.55)" y="8.9">SPC24</text>
<text id="lab-CCNA2" font-size="26.68" transform="translate(1204.5,1202.5) rotate(28.72)" y="9.2">CCNA2</text>
<text id="lab-KNL1" font-size="26.18" transform="translate(1192.0,1222.4) rotate(24.89)" y="9.0">KNL1</text>
<text id="lab-CDCA8" font-size="26.76" transform="translate(1182.0,1248.6) rotate(21.06)" y="9.2">CDCA8</text>
<text id="lab-CCND3" font-size="26.51" transform="translate(1172.1,1271.1) rotate(17.23)" y="9.1">CCND3</text>
<text id="lab-KIFC1" font-size="26.43" transform="translate(1162.6,1293.9) rotate(13.40)" y="9.1">KIFC1</text>
<text id="lab-AURKA" font-size="26.45" transform="translate(1159.8,1319.6) rotate(9.57)" y="9.1">AURKA</text>
<text id="lab-CDK1" font-size="26.31" transform="translate(1152.6,1342.9) rotate(5.74)" y="9.1">CDK1</text>
<text id="lab-CCNB2" font-size="26.68" transform="translate(1154.4,1368.5) rotate(1.91)" y="9.2">CCNB2</text>
<text id="lab-CENPC" font-size="26.70" transform="translate(1155.4,1393.2) rotate(358.09)" y="9.2">CENPC</text>
<text id="lab-CENPE" font-size="26.48" transform="translate(1155.6,1416.6) rotate(354.26)" y="9.1">CENPE</text>
<text id="lab-MAD2L1" font-size="26.01" transform="translate(1159.2,1441.8) rotate(350.43)" y="8.9">MAD2L1</text>
<text id="lab-NDC80" font-size="26.18" transform="translate(1163.6,1466.9) rotate(346.60)" y="9.0">NDC80</text>
<text id="lab-NUF2" font-size="25.65" transform="translate(1168.9,1493.0) rotate(342.77)" y="8.8">NUF2</text>
<text id="lab-SGO1" font-size="25.65" transform="translate(1179.5,1513.1) rotate(338.94)" y="8.8">SGO1</text>
<text id="lab-ZWILCH" font-size="26.37" transform="translate(1193.1,1536.0) rotate(335.11)" y="9.1">ZWILCH</text>
<text id="lab-CDCA2" font-size="26.81" transform="translate(1205.3,1554.2) rotate(331.28)" y="9.2">CDCA2</text>
<text id="lab-SKA3" font-size="26.07" transform="translate(1219.2,1580.9) rotate(327.45)" y="9.0">SKA3</text>
<text id="lab-CCNB1" font-size="26.20" transform="translate(1233.4,1598.7) rotate(323.62)" y="9.0">CCNB1</text>
<text id="lab-KIF20B" font-size="26.68" transform="translate(1248.7,1622.5) rotate(319.79)" y="9.2">KIF20B</text>
<text id="lab-MIS18BP1" font-size="26.12" transform="translate(1267.0,1643.0) rotate(315.96)" y="9.0">MIS18BP1</text>
<text id="lab-PKN2" font-size="26.01" transform="translate(1284.7,1663.0) rotate(312.13)" y="8.9">PKN2</text>
<text id="lab-SMC2" font-size="26.29" transform="translate(1308.4,1677.7) rotate(308.30)" y="9.0">SMC2</text>
<text id="lab-INCENP" font-size="26.40" transform="translate(1335.9,1693.6) rotate(304.47)" y="9.1">INCENP</text>
<text id="lab-ASPM" font-size="26.56" transform="translate(1356.8,1705.0) rotate(300.64)" y="9.1">ASPM</text>
<text id="lab-CENPI" font-size="26.51" transform="translate(1383.3,1715.0) rotate(296.81)" y="9.1">CENPI</text>
<text id="lab-PBK" font-size="26.48" transform="translate(1412.9,1731.9) rotate(292.98)" y="9.1">PBK</text>
<text id="lab-PLK1" font-size="26.26" transform="translate(1437.7,1734.7) rotate(289.15)" y="9.0">PLK1</text>
<text id="lab-CENPK" font-size="26.70" transform="translate(1465.9,1747.6) rotate(285.32)" y="9.2">CENPK</text>
<text id="lab-CENPL" font-size="26.84" transform="translate(1493.2,1751.8) rotate(281.49)" y="9.2">CENPL</text>
<text id="lab-NUP107" font-size="26.48" transform="translate(1521.3,1756.6) rotate(277.66)" y="9.1">NUP107</text>
<text id="lab-ANLN" font-size="26.29" transform="translate(1550.3,1762.2) rotate(273.83)" y="9.0">ANLN</text>
<text id="lab-YEATS4" font-size="26.65" transform="translate(1578.6,1763.6) rotate(270.00)" y="9.2">YEATS4</text>
</g>
<text x="546.0" y="1783.8" font-size="24.8" text-anchor="start" fill="#1a1a1a" >GO Terms</text>
<text x="1610.0" y="1778.8" font-size="24.8" text-anchor="start" fill="#1a1a1a" >GO Terms</text>
<rect x="327.7" y="1906.7" width="23.7" height="22.8" fill="#d7191c" stroke="#7a7a7a" stroke-width="1.6"/>
<text x="359.5" y="1924.0" font-size="24.92" text-anchor="start" fill="#1a1a1a" >Response to endoplasmic reticulum stress</text>
<rect x="327.7" y="1943.3" width="23.7" height="22.5" fill="#2b83ba" stroke="#7a7a7a" stroke-width="1.6"/>
<text x="359.5" y="1960.6" font-size="24.92" text-anchor="start" fill="#1a1a1a" >Cholesterol metabolic process</text>
<rect x="327.7" y="1979.3" width="23.7" height="22.8" fill="#abdda4" stroke="#7a7a7a" stroke-width="1.6"/>
<text x="359.5" y="1996.6" font-size="24.92" text-anchor="start" fill="#1a1a1a" >Fatty acid homeostasis</text>
<rect x="327.7" y="2019.2" width="23.7" height="22.5" fill="#fdae61" stroke="#7a7a7a" stroke-width="1.6"/>
<text x="359.5" y="2032.4" font-size="24.92" text-anchor="start" fill="#1a1a1a" >Intrinsic apoptotic signaling pathway in response</text>
<text x="359.5" y="2062.4" font-size="24.92" text-anchor="start" fill="#1a1a1a" >to endoplasmic reticulum stress</text>
<rect x="1417.0" y="1893.3" width="23.7" height="23.0" fill="#7fc97f" stroke="#7a7a7a" stroke-width="1.6"/>
<text x="1450.5" y="1913.1" font-size="24.92" text-anchor="start" fill="#1a1a1a" >Sister chromatid cohesion</text>
<rect x="1417.0" y="1928.6" width="23.7" height="23.2" fill="#beaed4" stroke="#7a7a7a" stroke-width="1.6"/>
<text x="1450.5" y="1948.6" font-size="24.92" text-anchor="start" fill="#1a1a1a" >Chromosome segregation</text>
<rect x="1417.0" y="1965.6" width="23.7" height="23.0" fill="#fdc086" stroke="#7a7a7a" stroke-width="1.6"/>
<text x="1450.5" y="1983.9" font-size="24.92" text-anchor="start" fill="#1a1a1a" >Cell division</text>
<rect x="1417.0" y="2001.0" width="23.7" height="23.0" fill="#ffff99" stroke="#7a7a7a" stroke-width="1.6"/>
<text x="1450.5" y="2020.7" font-size="24.92" text-anchor="start" fill="#1a1a1a" >Mitotic nuclear division</text>
</g>
</g>
</svg>
</body>
</html>
